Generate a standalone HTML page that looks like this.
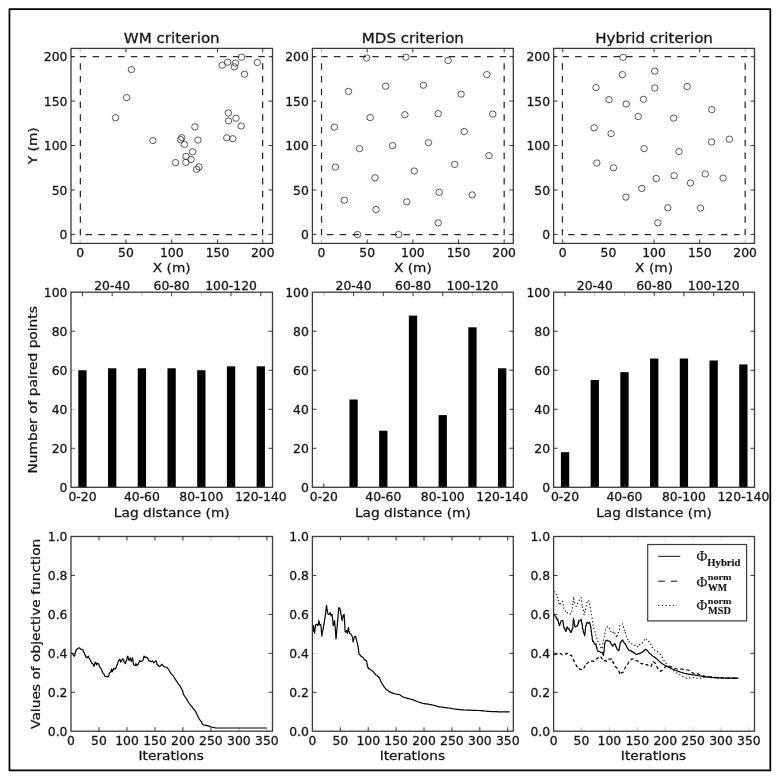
<!DOCTYPE html>
<html><head><meta charset="utf-8"><title>Sampling design criteria</title>
<style>
html,body{margin:0;padding:0;background:#fff;}
body{width:780px;height:780px;overflow:hidden;}
svg{display:block;}
text{fill:#111;stroke:#222;stroke-width:0.3px;}
.m{stroke-width:0.15px;}
</style></head><body>
<svg width="780" height="780" viewBox="0 0 780 780">
<rect width="780" height="780" fill="#fff"/>
<rect x="9.45" y="9.05" width="760.85" height="761.4" fill="none" stroke="#000" stroke-width="1.75" stroke-linejoin="round"/>
<path d="M71.00 56.70H272.50" stroke="#2a2a2a" stroke-width="1.25" fill="none" stroke-dasharray="6.45 6.3" stroke-dashoffset="3.9"/>
<path d="M85.50 234.60H257.00" stroke="#2a2a2a" stroke-width="1.25" fill="none" stroke-dasharray="6.45 6.3"/>
<path d="M80.36 63.2V235.2" stroke="#2a2a2a" stroke-width="1.25" fill="none" stroke-dasharray="6.45 6.3"/>
<path d="M262.64 63.2V235.2" stroke="#2a2a2a" stroke-width="1.25" fill="none" stroke-dasharray="6.45 6.3"/>
<rect x="71.00" y="48.40" width="201.50" height="195.00" fill="none" stroke="#3a3a3a" stroke-width="1.3"/>
<line x1="80.16" y1="243.40" x2="80.16" y2="239.40" stroke="#222" stroke-width="0.9" opacity="0.35"/>
<line x1="80.16" y1="48.40" x2="80.16" y2="52.40" stroke="#222" stroke-width="0.9" opacity="0.35"/>
<line x1="125.95" y1="243.40" x2="125.95" y2="239.40" stroke="#222" stroke-width="0.9" />
<line x1="125.95" y1="48.40" x2="125.95" y2="52.40" stroke="#222" stroke-width="0.9" />
<line x1="171.75" y1="243.40" x2="171.75" y2="239.40" stroke="#222" stroke-width="0.9" />
<line x1="217.55" y1="243.40" x2="217.55" y2="239.40" stroke="#222" stroke-width="0.9" />
<line x1="217.55" y1="48.40" x2="217.55" y2="52.40" stroke="#222" stroke-width="0.9" />
<line x1="262.74" y1="243.40" x2="262.74" y2="239.40" stroke="#222" stroke-width="0.9" />
<line x1="262.74" y1="48.40" x2="262.74" y2="52.40" stroke="#222" stroke-width="0.9" />
<line x1="71.00" y1="234.40" x2="75.00" y2="234.40" stroke="#222" stroke-width="0.9" />
<line x1="272.50" y1="234.40" x2="268.50" y2="234.40" stroke="#222" stroke-width="0.9" />
<line x1="71.00" y1="189.98" x2="75.00" y2="189.98" stroke="#222" stroke-width="0.9" />
<line x1="272.50" y1="189.98" x2="268.50" y2="189.98" stroke="#222" stroke-width="0.9" />
<line x1="71.00" y1="145.55" x2="75.00" y2="145.55" stroke="#222" stroke-width="0.9" />
<line x1="272.50" y1="145.55" x2="268.50" y2="145.55" stroke="#222" stroke-width="0.9" />
<line x1="71.00" y1="101.12" x2="75.00" y2="101.12" stroke="#222" stroke-width="0.9" />
<line x1="272.50" y1="101.12" x2="268.50" y2="101.12" stroke="#222" stroke-width="0.9" />
<line x1="71.00" y1="56.70" x2="75.00" y2="56.70" stroke="#222" stroke-width="0.9" />
<line x1="272.50" y1="56.70" x2="268.50" y2="56.70" stroke="#222" stroke-width="0.9" />
<text transform="translate(80.16 256.80) scale(1 0.93)" font-size="12.4" text-anchor="middle" font-family='"DejaVu Sans", "Liberation Sans", sans-serif' font-weight="normal" >0</text>
<text transform="translate(125.95 256.80) scale(1 0.93)" font-size="12.4" text-anchor="middle" font-family='"DejaVu Sans", "Liberation Sans", sans-serif' font-weight="normal" >50</text>
<text transform="translate(171.75 256.80) scale(1 0.93)" font-size="12.4" text-anchor="middle" font-family='"DejaVu Sans", "Liberation Sans", sans-serif' font-weight="normal" >100</text>
<text transform="translate(217.55 256.80) scale(1 0.93)" font-size="12.4" text-anchor="middle" font-family='"DejaVu Sans", "Liberation Sans", sans-serif' font-weight="normal" >150</text>
<text transform="translate(262.74 256.80) scale(1 0.93)" font-size="12.4" text-anchor="middle" font-family='"DejaVu Sans", "Liberation Sans", sans-serif' font-weight="normal" >200</text>
<text transform="translate(67.50 239.10) scale(1 0.93)" font-size="12.4" text-anchor="end" font-family='"DejaVu Sans", "Liberation Sans", sans-serif' font-weight="normal" >0</text>
<text transform="translate(67.50 194.68) scale(1 0.93)" font-size="12.4" text-anchor="end" font-family='"DejaVu Sans", "Liberation Sans", sans-serif' font-weight="normal" >50</text>
<text transform="translate(67.50 150.25) scale(1 0.93)" font-size="12.4" text-anchor="end" font-family='"DejaVu Sans", "Liberation Sans", sans-serif' font-weight="normal" >100</text>
<text transform="translate(67.50 105.83) scale(1 0.93)" font-size="12.4" text-anchor="end" font-family='"DejaVu Sans", "Liberation Sans", sans-serif' font-weight="normal" >150</text>
<text transform="translate(67.50 61.40) scale(1 0.93)" font-size="12.4" text-anchor="end" font-family='"DejaVu Sans", "Liberation Sans", sans-serif' font-weight="normal" >200</text>
<text transform="translate(171.75 272.40) scale(1 0.93)" font-size="13.75" text-anchor="middle" font-family='"DejaVu Sans", "Liberation Sans", sans-serif' font-weight="normal" >X (m)</text>
<text transform="translate(171.75 42.80) scale(1 0.93)" font-size="15.1" text-anchor="middle" font-family='"DejaVu Sans", "Liberation Sans", sans-serif' font-weight="normal" >WM criterion</text>
<ellipse cx="241.5" cy="57.2" rx="3.25" ry="3.15" fill="none" stroke="#2a2a2a" stroke-width="0.78"/>
<ellipse cx="227.7" cy="62.2" rx="3.25" ry="3.15" fill="none" stroke="#2a2a2a" stroke-width="0.78"/>
<ellipse cx="222.2" cy="65.2" rx="3.25" ry="3.15" fill="none" stroke="#2a2a2a" stroke-width="0.78"/>
<ellipse cx="235.4" cy="63.1" rx="3.25" ry="3.15" fill="none" stroke="#2a2a2a" stroke-width="0.78"/>
<ellipse cx="234.3" cy="66.8" rx="3.25" ry="3.15" fill="none" stroke="#2a2a2a" stroke-width="0.78"/>
<ellipse cx="257.4" cy="62.5" rx="3.25" ry="3.15" fill="none" stroke="#2a2a2a" stroke-width="0.78"/>
<ellipse cx="244.5" cy="74.2" rx="3.25" ry="3.15" fill="none" stroke="#2a2a2a" stroke-width="0.78"/>
<ellipse cx="131.4" cy="69.6" rx="3.25" ry="3.15" fill="none" stroke="#2a2a2a" stroke-width="0.78"/>
<ellipse cx="126.6" cy="97.6" rx="3.25" ry="3.15" fill="none" stroke="#2a2a2a" stroke-width="0.78"/>
<ellipse cx="115.6" cy="117.7" rx="3.25" ry="3.15" fill="none" stroke="#2a2a2a" stroke-width="0.78"/>
<ellipse cx="152.9" cy="140.5" rx="3.25" ry="3.15" fill="none" stroke="#2a2a2a" stroke-width="0.78"/>
<ellipse cx="228.3" cy="112.9" rx="3.25" ry="3.15" fill="none" stroke="#2a2a2a" stroke-width="0.78"/>
<ellipse cx="228.5" cy="120.9" rx="3.25" ry="3.15" fill="none" stroke="#2a2a2a" stroke-width="0.78"/>
<ellipse cx="236.0" cy="118.2" rx="3.25" ry="3.15" fill="none" stroke="#2a2a2a" stroke-width="0.78"/>
<ellipse cx="241.2" cy="126.0" rx="3.25" ry="3.15" fill="none" stroke="#2a2a2a" stroke-width="0.78"/>
<ellipse cx="226.8" cy="137.8" rx="3.25" ry="3.15" fill="none" stroke="#2a2a2a" stroke-width="0.78"/>
<ellipse cx="232.8" cy="138.7" rx="3.25" ry="3.15" fill="none" stroke="#2a2a2a" stroke-width="0.78"/>
<ellipse cx="194.9" cy="126.8" rx="3.25" ry="3.15" fill="none" stroke="#2a2a2a" stroke-width="0.78"/>
<ellipse cx="181.8" cy="137.7" rx="3.25" ry="3.15" fill="none" stroke="#2a2a2a" stroke-width="0.78"/>
<ellipse cx="180.6" cy="139.6" rx="3.25" ry="3.15" fill="none" stroke="#2a2a2a" stroke-width="0.78"/>
<ellipse cx="184.4" cy="144.4" rx="3.25" ry="3.15" fill="none" stroke="#2a2a2a" stroke-width="0.78"/>
<ellipse cx="197.9" cy="140.1" rx="3.25" ry="3.15" fill="none" stroke="#2a2a2a" stroke-width="0.78"/>
<ellipse cx="192.6" cy="151.8" rx="3.25" ry="3.15" fill="none" stroke="#2a2a2a" stroke-width="0.78"/>
<ellipse cx="186.1" cy="156.4" rx="3.25" ry="3.15" fill="none" stroke="#2a2a2a" stroke-width="0.78"/>
<ellipse cx="191.0" cy="159.5" rx="3.25" ry="3.15" fill="none" stroke="#2a2a2a" stroke-width="0.78"/>
<ellipse cx="185.9" cy="162.3" rx="3.25" ry="3.15" fill="none" stroke="#2a2a2a" stroke-width="0.78"/>
<ellipse cx="175.6" cy="162.6" rx="3.25" ry="3.15" fill="none" stroke="#2a2a2a" stroke-width="0.78"/>
<ellipse cx="199.0" cy="166.9" rx="3.25" ry="3.15" fill="none" stroke="#2a2a2a" stroke-width="0.78"/>
<ellipse cx="196.7" cy="169.3" rx="3.25" ry="3.15" fill="none" stroke="#2a2a2a" stroke-width="0.78"/>
<path d="M312.40 56.70H513.30" stroke="#2a2a2a" stroke-width="1.25" fill="none" stroke-dasharray="6.45 6.3" stroke-dashoffset="3.9"/>
<path d="M326.90 234.60H498.40" stroke="#2a2a2a" stroke-width="1.25" fill="none" stroke-dasharray="6.45 6.3"/>
<path d="M321.53 63.2V235.2" stroke="#2a2a2a" stroke-width="1.25" fill="none" stroke-dasharray="6.45 6.3"/>
<path d="M504.17 63.2V235.2" stroke="#2a2a2a" stroke-width="1.25" fill="none" stroke-dasharray="6.45 6.3"/>
<rect x="312.40" y="48.40" width="200.90" height="195.00" fill="none" stroke="#3a3a3a" stroke-width="1.3"/>
<line x1="321.53" y1="243.40" x2="321.53" y2="239.40" stroke="#222" stroke-width="0.9" opacity="0.35"/>
<line x1="321.53" y1="48.40" x2="321.53" y2="52.40" stroke="#222" stroke-width="0.9" opacity="0.35"/>
<line x1="367.19" y1="243.40" x2="367.19" y2="239.40" stroke="#222" stroke-width="0.9" />
<line x1="367.19" y1="48.40" x2="367.19" y2="52.40" stroke="#222" stroke-width="0.9" />
<line x1="412.85" y1="243.40" x2="412.85" y2="239.40" stroke="#222" stroke-width="0.9" />
<line x1="412.85" y1="48.40" x2="412.85" y2="52.40" stroke="#222" stroke-width="0.9" />
<line x1="458.51" y1="243.40" x2="458.51" y2="239.40" stroke="#222" stroke-width="0.9" />
<line x1="504.17" y1="243.40" x2="504.17" y2="239.40" stroke="#222" stroke-width="0.9" />
<line x1="504.17" y1="48.40" x2="504.17" y2="52.40" stroke="#222" stroke-width="0.9" />
<line x1="312.40" y1="234.40" x2="316.40" y2="234.40" stroke="#222" stroke-width="0.9" />
<line x1="513.30" y1="234.40" x2="509.30" y2="234.40" stroke="#222" stroke-width="0.9" />
<line x1="312.40" y1="189.98" x2="316.40" y2="189.98" stroke="#222" stroke-width="0.9" />
<line x1="513.30" y1="189.98" x2="509.30" y2="189.98" stroke="#222" stroke-width="0.9" />
<line x1="312.40" y1="145.55" x2="316.40" y2="145.55" stroke="#222" stroke-width="0.9" />
<line x1="513.30" y1="145.55" x2="509.30" y2="145.55" stroke="#222" stroke-width="0.9" />
<line x1="312.40" y1="101.12" x2="316.40" y2="101.12" stroke="#222" stroke-width="0.9" />
<line x1="513.30" y1="101.12" x2="509.30" y2="101.12" stroke="#222" stroke-width="0.9" />
<line x1="312.40" y1="56.70" x2="316.40" y2="56.70" stroke="#222" stroke-width="0.9" />
<line x1="513.30" y1="56.70" x2="509.30" y2="56.70" stroke="#222" stroke-width="0.9" />
<text transform="translate(321.53 256.80) scale(1 0.93)" font-size="12.4" text-anchor="middle" font-family='"DejaVu Sans", "Liberation Sans", sans-serif' font-weight="normal" >0</text>
<text transform="translate(367.19 256.80) scale(1 0.93)" font-size="12.4" text-anchor="middle" font-family='"DejaVu Sans", "Liberation Sans", sans-serif' font-weight="normal" >50</text>
<text transform="translate(412.85 256.80) scale(1 0.93)" font-size="12.4" text-anchor="middle" font-family='"DejaVu Sans", "Liberation Sans", sans-serif' font-weight="normal" >100</text>
<text transform="translate(458.51 256.80) scale(1 0.93)" font-size="12.4" text-anchor="middle" font-family='"DejaVu Sans", "Liberation Sans", sans-serif' font-weight="normal" >150</text>
<text transform="translate(504.17 256.80) scale(1 0.93)" font-size="12.4" text-anchor="middle" font-family='"DejaVu Sans", "Liberation Sans", sans-serif' font-weight="normal" >200</text>
<text transform="translate(308.90 239.10) scale(1 0.93)" font-size="12.4" text-anchor="end" font-family='"DejaVu Sans", "Liberation Sans", sans-serif' font-weight="normal" >0</text>
<text transform="translate(308.90 194.68) scale(1 0.93)" font-size="12.4" text-anchor="end" font-family='"DejaVu Sans", "Liberation Sans", sans-serif' font-weight="normal" >50</text>
<text transform="translate(308.90 150.25) scale(1 0.93)" font-size="12.4" text-anchor="end" font-family='"DejaVu Sans", "Liberation Sans", sans-serif' font-weight="normal" >100</text>
<text transform="translate(308.90 105.83) scale(1 0.93)" font-size="12.4" text-anchor="end" font-family='"DejaVu Sans", "Liberation Sans", sans-serif' font-weight="normal" >150</text>
<text transform="translate(308.90 61.40) scale(1 0.93)" font-size="12.4" text-anchor="end" font-family='"DejaVu Sans", "Liberation Sans", sans-serif' font-weight="normal" >200</text>
<text transform="translate(412.85 272.40) scale(1 0.93)" font-size="13.75" text-anchor="middle" font-family='"DejaVu Sans", "Liberation Sans", sans-serif' font-weight="normal" >X (m)</text>
<text transform="translate(412.85 42.80) scale(1 0.93)" font-size="15.1" text-anchor="middle" font-family='"DejaVu Sans", "Liberation Sans", sans-serif' font-weight="normal" >MDS criterion</text>
<ellipse cx="366.7" cy="58.0" rx="3.25" ry="3.15" fill="none" stroke="#2a2a2a" stroke-width="0.78"/>
<ellipse cx="405.9" cy="57.1" rx="3.25" ry="3.15" fill="none" stroke="#2a2a2a" stroke-width="0.78"/>
<ellipse cx="348.5" cy="91.4" rx="3.25" ry="3.15" fill="none" stroke="#2a2a2a" stroke-width="0.78"/>
<ellipse cx="385.7" cy="86.2" rx="3.25" ry="3.15" fill="none" stroke="#2a2a2a" stroke-width="0.78"/>
<ellipse cx="370.2" cy="117.6" rx="3.25" ry="3.15" fill="none" stroke="#2a2a2a" stroke-width="0.78"/>
<ellipse cx="404.9" cy="114.7" rx="3.25" ry="3.15" fill="none" stroke="#2a2a2a" stroke-width="0.78"/>
<ellipse cx="334.3" cy="127.1" rx="3.25" ry="3.15" fill="none" stroke="#2a2a2a" stroke-width="0.78"/>
<ellipse cx="359.5" cy="148.6" rx="3.25" ry="3.15" fill="none" stroke="#2a2a2a" stroke-width="0.78"/>
<ellipse cx="392.6" cy="145.6" rx="3.25" ry="3.15" fill="none" stroke="#2a2a2a" stroke-width="0.78"/>
<ellipse cx="448.1" cy="60.5" rx="3.25" ry="3.15" fill="none" stroke="#2a2a2a" stroke-width="0.78"/>
<ellipse cx="486.9" cy="74.6" rx="3.25" ry="3.15" fill="none" stroke="#2a2a2a" stroke-width="0.78"/>
<ellipse cx="423.4" cy="85.2" rx="3.25" ry="3.15" fill="none" stroke="#2a2a2a" stroke-width="0.78"/>
<ellipse cx="461.1" cy="94.1" rx="3.25" ry="3.15" fill="none" stroke="#2a2a2a" stroke-width="0.78"/>
<ellipse cx="438.2" cy="113.7" rx="3.25" ry="3.15" fill="none" stroke="#2a2a2a" stroke-width="0.78"/>
<ellipse cx="492.8" cy="114.1" rx="3.25" ry="3.15" fill="none" stroke="#2a2a2a" stroke-width="0.78"/>
<ellipse cx="464.2" cy="131.5" rx="3.25" ry="3.15" fill="none" stroke="#2a2a2a" stroke-width="0.78"/>
<ellipse cx="428.5" cy="142.7" rx="3.25" ry="3.15" fill="none" stroke="#2a2a2a" stroke-width="0.78"/>
<ellipse cx="489.0" cy="155.6" rx="3.25" ry="3.15" fill="none" stroke="#2a2a2a" stroke-width="0.78"/>
<ellipse cx="335.4" cy="167.1" rx="3.25" ry="3.15" fill="none" stroke="#2a2a2a" stroke-width="0.78"/>
<ellipse cx="414.2" cy="171.0" rx="3.25" ry="3.15" fill="none" stroke="#2a2a2a" stroke-width="0.78"/>
<ellipse cx="375.0" cy="177.8" rx="3.25" ry="3.15" fill="none" stroke="#2a2a2a" stroke-width="0.78"/>
<ellipse cx="344.3" cy="200.2" rx="3.25" ry="3.15" fill="none" stroke="#2a2a2a" stroke-width="0.78"/>
<ellipse cx="406.8" cy="201.9" rx="3.25" ry="3.15" fill="none" stroke="#2a2a2a" stroke-width="0.78"/>
<ellipse cx="376.0" cy="209.5" rx="3.25" ry="3.15" fill="none" stroke="#2a2a2a" stroke-width="0.78"/>
<ellipse cx="357.5" cy="234.5" rx="3.25" ry="3.15" fill="none" stroke="#2a2a2a" stroke-width="0.78"/>
<ellipse cx="398.6" cy="234.5" rx="3.25" ry="3.15" fill="none" stroke="#2a2a2a" stroke-width="0.78"/>
<ellipse cx="454.7" cy="164.4" rx="3.25" ry="3.15" fill="none" stroke="#2a2a2a" stroke-width="0.78"/>
<ellipse cx="439.2" cy="192.3" rx="3.25" ry="3.15" fill="none" stroke="#2a2a2a" stroke-width="0.78"/>
<ellipse cx="472.2" cy="194.9" rx="3.25" ry="3.15" fill="none" stroke="#2a2a2a" stroke-width="0.78"/>
<ellipse cx="438.2" cy="222.9" rx="3.25" ry="3.15" fill="none" stroke="#2a2a2a" stroke-width="0.78"/>
<path d="M553.60 56.70H754.50" stroke="#2a2a2a" stroke-width="1.25" fill="none" stroke-dasharray="6.45 6.3" stroke-dashoffset="3.9"/>
<path d="M568.10 234.60H739.60" stroke="#2a2a2a" stroke-width="1.25" fill="none" stroke-dasharray="6.45 6.3"/>
<path d="M562.43 63.2V235.2" stroke="#2a2a2a" stroke-width="1.25" fill="none" stroke-dasharray="6.45 6.3"/>
<path d="M745.17 63.2V235.2" stroke="#2a2a2a" stroke-width="1.25" fill="none" stroke-dasharray="6.45 6.3"/>
<rect x="553.60" y="48.40" width="200.90" height="195.00" fill="none" stroke="#3a3a3a" stroke-width="1.3"/>
<line x1="562.73" y1="243.40" x2="562.73" y2="239.40" stroke="#222" stroke-width="0.9" />
<line x1="562.73" y1="48.40" x2="562.73" y2="52.40" stroke="#222" stroke-width="0.9" />
<line x1="654.05" y1="243.40" x2="654.05" y2="239.40" stroke="#222" stroke-width="0.9" />
<line x1="654.05" y1="48.40" x2="654.05" y2="52.40" stroke="#222" stroke-width="0.9" />
<line x1="699.71" y1="243.40" x2="699.71" y2="239.40" stroke="#222" stroke-width="0.9" />
<line x1="699.71" y1="48.40" x2="699.71" y2="52.40" stroke="#222" stroke-width="0.9" />
<line x1="745.17" y1="243.40" x2="745.17" y2="239.40" stroke="#222" stroke-width="0.9" opacity="0.35"/>
<line x1="745.17" y1="48.40" x2="745.17" y2="52.40" stroke="#222" stroke-width="0.9" opacity="0.35"/>
<line x1="553.60" y1="234.40" x2="557.60" y2="234.40" stroke="#222" stroke-width="0.9" />
<line x1="754.50" y1="234.40" x2="750.50" y2="234.40" stroke="#222" stroke-width="0.9" />
<line x1="553.60" y1="189.98" x2="557.60" y2="189.98" stroke="#222" stroke-width="0.9" />
<line x1="754.50" y1="189.98" x2="750.50" y2="189.98" stroke="#222" stroke-width="0.9" />
<line x1="553.60" y1="145.55" x2="557.60" y2="145.55" stroke="#222" stroke-width="0.9" />
<line x1="754.50" y1="145.55" x2="750.50" y2="145.55" stroke="#222" stroke-width="0.9" />
<line x1="553.60" y1="101.12" x2="557.60" y2="101.12" stroke="#222" stroke-width="0.9" />
<line x1="754.50" y1="101.12" x2="750.50" y2="101.12" stroke="#222" stroke-width="0.9" />
<line x1="553.60" y1="56.70" x2="557.60" y2="56.70" stroke="#222" stroke-width="0.9" />
<line x1="754.50" y1="56.70" x2="750.50" y2="56.70" stroke="#222" stroke-width="0.9" />
<text transform="translate(562.73 256.80) scale(1 0.93)" font-size="12.4" text-anchor="middle" font-family='"DejaVu Sans", "Liberation Sans", sans-serif' font-weight="normal" >0</text>
<text transform="translate(608.39 256.80) scale(1 0.93)" font-size="12.4" text-anchor="middle" font-family='"DejaVu Sans", "Liberation Sans", sans-serif' font-weight="normal" >50</text>
<text transform="translate(654.05 256.80) scale(1 0.93)" font-size="12.4" text-anchor="middle" font-family='"DejaVu Sans", "Liberation Sans", sans-serif' font-weight="normal" >100</text>
<text transform="translate(699.71 256.80) scale(1 0.93)" font-size="12.4" text-anchor="middle" font-family='"DejaVu Sans", "Liberation Sans", sans-serif' font-weight="normal" >150</text>
<text transform="translate(745.17 256.80) scale(1 0.93)" font-size="12.4" text-anchor="middle" font-family='"DejaVu Sans", "Liberation Sans", sans-serif' font-weight="normal" >200</text>
<text transform="translate(550.10 239.10) scale(1 0.93)" font-size="12.4" text-anchor="end" font-family='"DejaVu Sans", "Liberation Sans", sans-serif' font-weight="normal" >0</text>
<text transform="translate(550.10 194.68) scale(1 0.93)" font-size="12.4" text-anchor="end" font-family='"DejaVu Sans", "Liberation Sans", sans-serif' font-weight="normal" >50</text>
<text transform="translate(550.10 150.25) scale(1 0.93)" font-size="12.4" text-anchor="end" font-family='"DejaVu Sans", "Liberation Sans", sans-serif' font-weight="normal" >100</text>
<text transform="translate(550.10 105.83) scale(1 0.93)" font-size="12.4" text-anchor="end" font-family='"DejaVu Sans", "Liberation Sans", sans-serif' font-weight="normal" >150</text>
<text transform="translate(550.10 61.40) scale(1 0.93)" font-size="12.4" text-anchor="end" font-family='"DejaVu Sans", "Liberation Sans", sans-serif' font-weight="normal" >200</text>
<text transform="translate(654.05 272.40) scale(1 0.93)" font-size="13.75" text-anchor="middle" font-family='"DejaVu Sans", "Liberation Sans", sans-serif' font-weight="normal" >X (m)</text>
<text transform="translate(654.05 42.80) scale(1 0.93)" font-size="15.1" text-anchor="middle" font-family='"DejaVu Sans", "Liberation Sans", sans-serif' font-weight="normal" >Hybrid criterion</text>
<ellipse cx="623.1" cy="57.3" rx="3.25" ry="3.15" fill="none" stroke="#2a2a2a" stroke-width="0.78"/>
<ellipse cx="654.8" cy="71.1" rx="3.25" ry="3.15" fill="none" stroke="#2a2a2a" stroke-width="0.78"/>
<ellipse cx="622.4" cy="74.6" rx="3.25" ry="3.15" fill="none" stroke="#2a2a2a" stroke-width="0.78"/>
<ellipse cx="596.0" cy="87.6" rx="3.25" ry="3.15" fill="none" stroke="#2a2a2a" stroke-width="0.78"/>
<ellipse cx="654.8" cy="88.0" rx="3.25" ry="3.15" fill="none" stroke="#2a2a2a" stroke-width="0.78"/>
<ellipse cx="609.0" cy="99.7" rx="3.25" ry="3.15" fill="none" stroke="#2a2a2a" stroke-width="0.78"/>
<ellipse cx="643.5" cy="99.3" rx="3.25" ry="3.15" fill="none" stroke="#2a2a2a" stroke-width="0.78"/>
<ellipse cx="626.2" cy="104.0" rx="3.25" ry="3.15" fill="none" stroke="#2a2a2a" stroke-width="0.78"/>
<ellipse cx="638.2" cy="116.5" rx="3.25" ry="3.15" fill="none" stroke="#2a2a2a" stroke-width="0.78"/>
<ellipse cx="594.1" cy="127.8" rx="3.25" ry="3.15" fill="none" stroke="#2a2a2a" stroke-width="0.78"/>
<ellipse cx="611.1" cy="133.6" rx="3.25" ry="3.15" fill="none" stroke="#2a2a2a" stroke-width="0.78"/>
<ellipse cx="644.1" cy="148.6" rx="3.25" ry="3.15" fill="none" stroke="#2a2a2a" stroke-width="0.78"/>
<ellipse cx="687.1" cy="86.5" rx="3.25" ry="3.15" fill="none" stroke="#2a2a2a" stroke-width="0.78"/>
<ellipse cx="711.8" cy="109.6" rx="3.25" ry="3.15" fill="none" stroke="#2a2a2a" stroke-width="0.78"/>
<ellipse cx="673.7" cy="118.1" rx="3.25" ry="3.15" fill="none" stroke="#2a2a2a" stroke-width="0.78"/>
<ellipse cx="729.4" cy="139.2" rx="3.25" ry="3.15" fill="none" stroke="#2a2a2a" stroke-width="0.78"/>
<ellipse cx="711.6" cy="142.0" rx="3.25" ry="3.15" fill="none" stroke="#2a2a2a" stroke-width="0.78"/>
<ellipse cx="679.0" cy="151.6" rx="3.25" ry="3.15" fill="none" stroke="#2a2a2a" stroke-width="0.78"/>
<ellipse cx="596.8" cy="163.0" rx="3.25" ry="3.15" fill="none" stroke="#2a2a2a" stroke-width="0.78"/>
<ellipse cx="613.5" cy="167.8" rx="3.25" ry="3.15" fill="none" stroke="#2a2a2a" stroke-width="0.78"/>
<ellipse cx="656.2" cy="178.5" rx="3.25" ry="3.15" fill="none" stroke="#2a2a2a" stroke-width="0.78"/>
<ellipse cx="641.8" cy="188.4" rx="3.25" ry="3.15" fill="none" stroke="#2a2a2a" stroke-width="0.78"/>
<ellipse cx="625.9" cy="197.1" rx="3.25" ry="3.15" fill="none" stroke="#2a2a2a" stroke-width="0.78"/>
<ellipse cx="657.9" cy="222.8" rx="3.25" ry="3.15" fill="none" stroke="#2a2a2a" stroke-width="0.78"/>
<ellipse cx="674.1" cy="175.7" rx="3.25" ry="3.15" fill="none" stroke="#2a2a2a" stroke-width="0.78"/>
<ellipse cx="690.5" cy="183.0" rx="3.25" ry="3.15" fill="none" stroke="#2a2a2a" stroke-width="0.78"/>
<ellipse cx="705.3" cy="173.9" rx="3.25" ry="3.15" fill="none" stroke="#2a2a2a" stroke-width="0.78"/>
<ellipse cx="723.1" cy="178.1" rx="3.25" ry="3.15" fill="none" stroke="#2a2a2a" stroke-width="0.78"/>
<ellipse cx="667.8" cy="207.8" rx="3.25" ry="3.15" fill="none" stroke="#2a2a2a" stroke-width="0.78"/>
<ellipse cx="700.5" cy="208.1" rx="3.25" ry="3.15" fill="none" stroke="#2a2a2a" stroke-width="0.78"/>
<text transform="translate(37.30 145.80) rotate(-90) scale(1 0.9)" font-size="13.75" text-anchor="middle" font-family='"DejaVu Sans", "Liberation Sans", sans-serif' font-weight="normal" >Y (m)</text>
<rect x="78.30" y="370.24" width="8.3" height="117.06" fill="#000"/>
<rect x="108.02" y="368.29" width="8.3" height="119.01" fill="#000"/>
<rect x="137.74" y="368.29" width="8.3" height="119.01" fill="#000"/>
<rect x="167.46" y="368.29" width="8.3" height="119.01" fill="#000"/>
<rect x="197.18" y="370.24" width="8.3" height="117.06" fill="#000"/>
<rect x="226.90" y="366.34" width="8.3" height="120.96" fill="#000"/>
<rect x="256.62" y="366.34" width="8.3" height="120.96" fill="#000"/>
<rect x="71.00" y="292.20" width="201.50" height="195.10" fill="none" stroke="#3a3a3a" stroke-width="1.3"/>
<line x1="82.45" y1="487.30" x2="82.45" y2="483.30" stroke="#222" stroke-width="0.9" />
<line x1="82.45" y1="292.20" x2="82.45" y2="296.20" stroke="#222" stroke-width="0.9" />
<line x1="112.17" y1="487.30" x2="112.17" y2="483.30" stroke="#222" stroke-width="0.9" />
<line x1="112.17" y1="292.20" x2="112.17" y2="296.20" stroke="#222" stroke-width="0.9" />
<line x1="141.89" y1="487.30" x2="141.89" y2="483.30" stroke="#222" stroke-width="0.9" />
<line x1="141.89" y1="292.20" x2="141.89" y2="296.20" stroke="#222" stroke-width="0.9" opacity="0.35"/>
<line x1="171.61" y1="487.30" x2="171.61" y2="483.30" stroke="#222" stroke-width="0.9" />
<line x1="171.61" y1="292.20" x2="171.61" y2="296.20" stroke="#222" stroke-width="0.9" />
<line x1="201.33" y1="487.30" x2="201.33" y2="483.30" stroke="#222" stroke-width="0.9" />
<line x1="201.33" y1="292.20" x2="201.33" y2="296.20" stroke="#222" stroke-width="0.9" opacity="0.35"/>
<line x1="231.05" y1="487.30" x2="231.05" y2="483.30" stroke="#222" stroke-width="0.9" />
<line x1="231.05" y1="292.20" x2="231.05" y2="296.20" stroke="#222" stroke-width="0.9" />
<line x1="260.77" y1="487.30" x2="260.77" y2="483.30" stroke="#222" stroke-width="0.9" />
<line x1="260.77" y1="292.20" x2="260.77" y2="296.20" stroke="#222" stroke-width="0.9" />
<line x1="71.00" y1="448.28" x2="75.00" y2="448.28" stroke="#222" stroke-width="0.9" />
<line x1="272.50" y1="448.28" x2="268.50" y2="448.28" stroke="#222" stroke-width="0.9" />
<line x1="71.00" y1="409.26" x2="75.00" y2="409.26" stroke="#222" stroke-width="0.9" opacity="0.3"/>
<line x1="272.50" y1="409.26" x2="268.50" y2="409.26" stroke="#222" stroke-width="0.9" />
<line x1="71.00" y1="370.24" x2="75.00" y2="370.24" stroke="#222" stroke-width="0.9" opacity="0.3"/>
<line x1="272.50" y1="370.24" x2="268.50" y2="370.24" stroke="#222" stroke-width="0.9" />
<line x1="71.00" y1="331.22" x2="75.00" y2="331.22" stroke="#222" stroke-width="0.9" />
<line x1="272.50" y1="331.22" x2="268.50" y2="331.22" stroke="#222" stroke-width="0.9" />
<text transform="translate(67.50 492.00) scale(1 0.93)" font-size="12.4" text-anchor="end" font-family='"DejaVu Sans", "Liberation Sans", sans-serif' font-weight="normal" >0</text>
<text transform="translate(67.50 452.98) scale(1 0.93)" font-size="12.4" text-anchor="end" font-family='"DejaVu Sans", "Liberation Sans", sans-serif' font-weight="normal" >20</text>
<text transform="translate(67.50 413.96) scale(1 0.93)" font-size="12.4" text-anchor="end" font-family='"DejaVu Sans", "Liberation Sans", sans-serif' font-weight="normal" >40</text>
<text transform="translate(67.50 374.94) scale(1 0.93)" font-size="12.4" text-anchor="end" font-family='"DejaVu Sans", "Liberation Sans", sans-serif' font-weight="normal" >60</text>
<text transform="translate(67.50 335.92) scale(1 0.93)" font-size="12.4" text-anchor="end" font-family='"DejaVu Sans", "Liberation Sans", sans-serif' font-weight="normal" >80</text>
<text transform="translate(67.50 296.90) scale(1 0.93)" font-size="12.4" text-anchor="end" font-family='"DejaVu Sans", "Liberation Sans", sans-serif' font-weight="normal" >100</text>
<text transform="translate(82.45 501.00) scale(1 0.93)" font-size="12.4" text-anchor="middle" font-family='"DejaVu Sans", "Liberation Sans", sans-serif' font-weight="normal" >0-20</text>
<text transform="translate(112.17 289.60) scale(1 0.93)" font-size="12.4" text-anchor="middle" font-family='"DejaVu Sans", "Liberation Sans", sans-serif' font-weight="normal" >20-40</text>
<text transform="translate(141.89 501.00) scale(1 0.93)" font-size="12.4" text-anchor="middle" font-family='"DejaVu Sans", "Liberation Sans", sans-serif' font-weight="normal" >40-60</text>
<text transform="translate(171.61 289.60) scale(1 0.93)" font-size="12.4" text-anchor="middle" font-family='"DejaVu Sans", "Liberation Sans", sans-serif' font-weight="normal" >60-80</text>
<text transform="translate(201.33 501.00) scale(1 0.93)" font-size="12.4" text-anchor="middle" font-family='"DejaVu Sans", "Liberation Sans", sans-serif' font-weight="normal" >80-100</text>
<text transform="translate(231.05 289.60) scale(1 0.93)" font-size="12.4" text-anchor="middle" font-family='"DejaVu Sans", "Liberation Sans", sans-serif' font-weight="normal" >100-120</text>
<text transform="translate(260.77 501.00) scale(1 0.93)" font-size="12.4" text-anchor="middle" font-family='"DejaVu Sans", "Liberation Sans", sans-serif' font-weight="normal" >120-140</text>
<text transform="translate(171.75 516.60) scale(1 0.93)" font-size="13.75" text-anchor="middle" font-family='"DejaVu Sans", "Liberation Sans", sans-serif' font-weight="normal" >Lag distance (m)</text>
<rect x="349.42" y="399.50" width="8.3" height="87.80" fill="#000"/>
<rect x="379.14" y="430.72" width="8.3" height="56.58" fill="#000"/>
<rect x="408.86" y="315.61" width="8.3" height="171.69" fill="#000"/>
<rect x="438.58" y="415.11" width="8.3" height="72.19" fill="#000"/>
<rect x="468.30" y="327.32" width="8.3" height="159.98" fill="#000"/>
<rect x="498.02" y="368.29" width="8.3" height="119.01" fill="#000"/>
<rect x="312.40" y="292.20" width="200.90" height="195.10" fill="none" stroke="#3a3a3a" stroke-width="1.3"/>
<line x1="323.85" y1="487.30" x2="323.85" y2="483.30" stroke="#222" stroke-width="0.9" />
<line x1="323.85" y1="292.20" x2="323.85" y2="296.20" stroke="#222" stroke-width="0.9" opacity="0.35"/>
<line x1="353.57" y1="487.30" x2="353.57" y2="483.30" stroke="#222" stroke-width="0.9" />
<line x1="353.57" y1="292.20" x2="353.57" y2="296.20" stroke="#222" stroke-width="0.9" />
<line x1="383.29" y1="487.30" x2="383.29" y2="483.30" stroke="#222" stroke-width="0.9" />
<line x1="383.29" y1="292.20" x2="383.29" y2="296.20" stroke="#222" stroke-width="0.9" />
<line x1="413.01" y1="487.30" x2="413.01" y2="483.30" stroke="#222" stroke-width="0.9" />
<line x1="413.01" y1="292.20" x2="413.01" y2="296.20" stroke="#222" stroke-width="0.9" />
<line x1="442.73" y1="487.30" x2="442.73" y2="483.30" stroke="#222" stroke-width="0.9" />
<line x1="442.73" y1="292.20" x2="442.73" y2="296.20" stroke="#222" stroke-width="0.9" />
<line x1="472.45" y1="487.30" x2="472.45" y2="483.30" stroke="#222" stroke-width="0.9" />
<line x1="472.45" y1="292.20" x2="472.45" y2="296.20" stroke="#222" stroke-width="0.9" opacity="0.35"/>
<line x1="502.17" y1="487.30" x2="502.17" y2="483.30" stroke="#222" stroke-width="0.9" />
<line x1="502.17" y1="292.20" x2="502.17" y2="296.20" stroke="#222" stroke-width="0.9" opacity="0.35"/>
<line x1="312.40" y1="448.28" x2="316.40" y2="448.28" stroke="#222" stroke-width="0.9" />
<line x1="513.30" y1="448.28" x2="509.30" y2="448.28" stroke="#222" stroke-width="0.9" />
<line x1="312.40" y1="409.26" x2="316.40" y2="409.26" stroke="#222" stroke-width="0.9" />
<line x1="513.30" y1="409.26" x2="509.30" y2="409.26" stroke="#222" stroke-width="0.9" />
<line x1="312.40" y1="370.24" x2="316.40" y2="370.24" stroke="#222" stroke-width="0.9" />
<line x1="513.30" y1="370.24" x2="509.30" y2="370.24" stroke="#222" stroke-width="0.9" />
<line x1="312.40" y1="331.22" x2="316.40" y2="331.22" stroke="#222" stroke-width="0.9" />
<line x1="513.30" y1="331.22" x2="509.30" y2="331.22" stroke="#222" stroke-width="0.9" />
<text transform="translate(308.90 492.00) scale(1 0.93)" font-size="12.4" text-anchor="end" font-family='"DejaVu Sans", "Liberation Sans", sans-serif' font-weight="normal" >0</text>
<text transform="translate(308.90 452.98) scale(1 0.93)" font-size="12.4" text-anchor="end" font-family='"DejaVu Sans", "Liberation Sans", sans-serif' font-weight="normal" >20</text>
<text transform="translate(308.90 413.96) scale(1 0.93)" font-size="12.4" text-anchor="end" font-family='"DejaVu Sans", "Liberation Sans", sans-serif' font-weight="normal" >40</text>
<text transform="translate(308.90 374.94) scale(1 0.93)" font-size="12.4" text-anchor="end" font-family='"DejaVu Sans", "Liberation Sans", sans-serif' font-weight="normal" >60</text>
<text transform="translate(308.90 335.92) scale(1 0.93)" font-size="12.4" text-anchor="end" font-family='"DejaVu Sans", "Liberation Sans", sans-serif' font-weight="normal" >80</text>
<text transform="translate(308.90 296.90) scale(1 0.93)" font-size="12.4" text-anchor="end" font-family='"DejaVu Sans", "Liberation Sans", sans-serif' font-weight="normal" >100</text>
<text transform="translate(323.85 501.00) scale(1 0.93)" font-size="12.4" text-anchor="middle" font-family='"DejaVu Sans", "Liberation Sans", sans-serif' font-weight="normal" >0-20</text>
<text transform="translate(353.57 289.60) scale(1 0.93)" font-size="12.4" text-anchor="middle" font-family='"DejaVu Sans", "Liberation Sans", sans-serif' font-weight="normal" >20-40</text>
<text transform="translate(383.29 501.00) scale(1 0.93)" font-size="12.4" text-anchor="middle" font-family='"DejaVu Sans", "Liberation Sans", sans-serif' font-weight="normal" >40-60</text>
<text transform="translate(413.01 289.60) scale(1 0.93)" font-size="12.4" text-anchor="middle" font-family='"DejaVu Sans", "Liberation Sans", sans-serif' font-weight="normal" >60-80</text>
<text transform="translate(442.73 501.00) scale(1 0.93)" font-size="12.4" text-anchor="middle" font-family='"DejaVu Sans", "Liberation Sans", sans-serif' font-weight="normal" >80-100</text>
<text transform="translate(472.45 289.60) scale(1 0.93)" font-size="12.4" text-anchor="middle" font-family='"DejaVu Sans", "Liberation Sans", sans-serif' font-weight="normal" >100-120</text>
<text transform="translate(502.17 501.00) scale(1 0.93)" font-size="12.4" text-anchor="middle" font-family='"DejaVu Sans", "Liberation Sans", sans-serif' font-weight="normal" >120-140</text>
<text transform="translate(412.85 516.60) scale(1 0.93)" font-size="13.75" text-anchor="middle" font-family='"DejaVu Sans", "Liberation Sans", sans-serif' font-weight="normal" >Lag distance (m)</text>
<rect x="560.90" y="452.18" width="8.3" height="35.12" fill="#000"/>
<rect x="590.62" y="380.00" width="8.3" height="107.31" fill="#000"/>
<rect x="620.34" y="372.19" width="8.3" height="115.11" fill="#000"/>
<rect x="650.06" y="358.53" width="8.3" height="128.77" fill="#000"/>
<rect x="679.78" y="358.53" width="8.3" height="128.77" fill="#000"/>
<rect x="709.50" y="360.49" width="8.3" height="126.81" fill="#000"/>
<rect x="739.22" y="364.39" width="8.3" height="122.91" fill="#000"/>
<rect x="553.60" y="292.20" width="200.90" height="195.10" fill="none" stroke="#3a3a3a" stroke-width="1.3"/>
<line x1="565.05" y1="487.30" x2="565.05" y2="483.30" stroke="#222" stroke-width="0.9" />
<line x1="565.05" y1="292.20" x2="565.05" y2="296.20" stroke="#222" stroke-width="0.9" />
<line x1="594.77" y1="487.30" x2="594.77" y2="483.30" stroke="#222" stroke-width="0.9" />
<line x1="594.77" y1="292.20" x2="594.77" y2="296.20" stroke="#222" stroke-width="0.9" opacity="0.35"/>
<line x1="624.49" y1="487.30" x2="624.49" y2="483.30" stroke="#222" stroke-width="0.9" />
<line x1="624.49" y1="292.20" x2="624.49" y2="296.20" stroke="#222" stroke-width="0.9" opacity="0.4"/>
<line x1="654.21" y1="487.30" x2="654.21" y2="483.30" stroke="#222" stroke-width="0.9" />
<line x1="654.21" y1="292.20" x2="654.21" y2="296.20" stroke="#222" stroke-width="0.9" />
<line x1="683.93" y1="487.30" x2="683.93" y2="483.30" stroke="#222" stroke-width="0.9" />
<line x1="683.93" y1="292.20" x2="683.93" y2="296.20" stroke="#222" stroke-width="0.9" />
<line x1="713.65" y1="487.30" x2="713.65" y2="483.30" stroke="#222" stroke-width="0.9" />
<line x1="713.65" y1="292.20" x2="713.65" y2="296.20" stroke="#222" stroke-width="0.9" />
<line x1="743.37" y1="487.30" x2="743.37" y2="483.30" stroke="#222" stroke-width="0.9" />
<line x1="743.37" y1="292.20" x2="743.37" y2="296.20" stroke="#222" stroke-width="0.9" />
<line x1="553.60" y1="448.28" x2="557.60" y2="448.28" stroke="#222" stroke-width="0.9" />
<line x1="754.50" y1="448.28" x2="750.50" y2="448.28" stroke="#222" stroke-width="0.9" />
<line x1="553.60" y1="409.26" x2="557.60" y2="409.26" stroke="#222" stroke-width="0.9" />
<line x1="754.50" y1="409.26" x2="750.50" y2="409.26" stroke="#222" stroke-width="0.9" />
<line x1="553.60" y1="370.24" x2="557.60" y2="370.24" stroke="#222" stroke-width="0.9" />
<line x1="754.50" y1="370.24" x2="750.50" y2="370.24" stroke="#222" stroke-width="0.9" />
<line x1="553.60" y1="331.22" x2="557.60" y2="331.22" stroke="#222" stroke-width="0.9" />
<line x1="754.50" y1="331.22" x2="750.50" y2="331.22" stroke="#222" stroke-width="0.9" />
<text transform="translate(550.10 492.00) scale(1 0.93)" font-size="12.4" text-anchor="end" font-family='"DejaVu Sans", "Liberation Sans", sans-serif' font-weight="normal" >0</text>
<text transform="translate(550.10 452.98) scale(1 0.93)" font-size="12.4" text-anchor="end" font-family='"DejaVu Sans", "Liberation Sans", sans-serif' font-weight="normal" >20</text>
<text transform="translate(550.10 413.96) scale(1 0.93)" font-size="12.4" text-anchor="end" font-family='"DejaVu Sans", "Liberation Sans", sans-serif' font-weight="normal" >40</text>
<text transform="translate(550.10 374.94) scale(1 0.93)" font-size="12.4" text-anchor="end" font-family='"DejaVu Sans", "Liberation Sans", sans-serif' font-weight="normal" >60</text>
<text transform="translate(550.10 335.92) scale(1 0.93)" font-size="12.4" text-anchor="end" font-family='"DejaVu Sans", "Liberation Sans", sans-serif' font-weight="normal" >80</text>
<text transform="translate(550.10 296.90) scale(1 0.93)" font-size="12.4" text-anchor="end" font-family='"DejaVu Sans", "Liberation Sans", sans-serif' font-weight="normal" >100</text>
<text transform="translate(565.05 501.00) scale(1 0.93)" font-size="12.4" text-anchor="middle" font-family='"DejaVu Sans", "Liberation Sans", sans-serif' font-weight="normal" >0-20</text>
<text transform="translate(594.77 289.60) scale(1 0.93)" font-size="12.4" text-anchor="middle" font-family='"DejaVu Sans", "Liberation Sans", sans-serif' font-weight="normal" >20-40</text>
<text transform="translate(624.49 501.00) scale(1 0.93)" font-size="12.4" text-anchor="middle" font-family='"DejaVu Sans", "Liberation Sans", sans-serif' font-weight="normal" >40-60</text>
<text transform="translate(654.21 289.60) scale(1 0.93)" font-size="12.4" text-anchor="middle" font-family='"DejaVu Sans", "Liberation Sans", sans-serif' font-weight="normal" >60-80</text>
<text transform="translate(683.93 501.00) scale(1 0.93)" font-size="12.4" text-anchor="middle" font-family='"DejaVu Sans", "Liberation Sans", sans-serif' font-weight="normal" >80-100</text>
<text transform="translate(713.65 289.60) scale(1 0.93)" font-size="12.4" text-anchor="middle" font-family='"DejaVu Sans", "Liberation Sans", sans-serif' font-weight="normal" >100-120</text>
<text transform="translate(743.37 501.00) scale(1 0.93)" font-size="12.4" text-anchor="middle" font-family='"DejaVu Sans", "Liberation Sans", sans-serif' font-weight="normal" >120-140</text>
<text transform="translate(654.05 516.60) scale(1 0.93)" font-size="13.75" text-anchor="middle" font-family='"DejaVu Sans", "Liberation Sans", sans-serif' font-weight="normal" >Lag distance (m)</text>
<text transform="translate(36.70 389.80) rotate(-90) scale(1 0.9)" font-size="13.75" text-anchor="middle" font-family='"DejaVu Sans", "Liberation Sans", sans-serif' font-weight="normal" >Number of paired points</text>
<path d="M70.9 653.3 L71.8 653.2 L72.8 654.3 L73.7 655.8 L74.6 656.1 L74.9 655.5 L75.2 653.4 L75.4 652.7 L75.7 651.5 L76.0 650.8 L76.3 649.4 L77.3 649.2 L78.4 648.0 L79.5 647.8 L80.5 649.1 L82.2 649.4 L82.8 649.5 L83.4 651.9 L84.0 652.2 L84.5 653.3 L85.0 655.1 L85.4 655.0 L85.9 657.1 L87.3 657.8 L87.8 656.9 L88.3 656.1 L88.8 657.7 L89.3 658.5 L89.9 659.0 L90.5 661.2 L91.1 661.4 L91.6 663.1 L92.1 663.5 L92.7 663.6 L93.3 664.5 L93.9 666.3 L94.3 665.3 L94.6 665.0 L95.0 662.9 L95.3 662.1 L95.8 662.5 L96.3 663.8 L96.7 664.9 L97.4 663.3 L98.1 663.5 L98.7 664.0 L99.2 665.5 L99.7 666.6 L100.3 667.7 L100.8 668.3 L101.3 669.3 L101.8 670.4 L102.4 671.9 L102.9 672.8 L103.4 673.5 L104.0 674.0 L104.5 675.9 L105.6 676.6 L106.6 676.2 L108.0 676.9 L108.5 675.9 L108.9 675.0 L109.4 673.1 L109.9 672.6 L110.4 672.3 L111.0 670.9 L111.5 669.1 L111.9 669.8 L112.2 671.9 L112.7 670.5 L113.2 670.0 L113.7 668.4 L115.1 669.1 L115.5 668.6 L116.0 668.0 L116.5 666.3 L116.9 665.0 L117.3 664.6 L117.8 663.2 L118.2 661.4 L118.6 660.6 L119.3 660.1 L120.0 659.2 L120.4 661.3 L120.7 662.1 L121.4 661.5 L122.1 659.7 L122.8 658.5 L123.3 659.9 L123.8 660.0 L124.2 662.1 L125.4 663.5 L125.9 661.6 L126.4 660.6 L126.7 660.1 L127.1 658.2 L127.4 656.7 L127.8 656.1 L128.1 657.4 L128.5 658.8 L128.8 659.8 L129.2 660.6 L129.7 659.0 L130.2 657.8 L130.5 658.9 L130.9 660.2 L131.3 661.4 L131.7 660.7 L132.0 659.0 L132.4 657.8 L132.6 658.9 L132.8 660.3 L133.0 660.8 L133.2 662.1 L133.4 664.2 L134.1 665.2 L134.8 665.6 L135.4 665.4 L135.9 663.5 L136.4 664.7 L136.9 665.6 L137.6 664.7 L138.3 664.2 L138.8 662.4 L139.3 661.8 L139.8 660.6 L140.8 661.7 L141.9 660.9 L142.6 660.6 L143.3 659.2 L143.5 658.3 L143.7 657.8 L144.0 656.1 L144.7 656.5 L145.4 657.8 L146.8 657.1 L147.5 658.2 L148.2 659.2 L148.9 660.8 L149.6 660.6 L151.0 661.8 L152.4 660.9 L153.2 662.0 L153.9 662.8 L154.9 661.6 L156.0 660.6 L156.3 661.4 L156.7 662.8 L157.0 664.4 L157.4 664.9 L158.1 664.9 L158.8 666.3 L159.9 666.3 L160.9 665.6 L162.0 664.2 L162.9 665.5 L163.7 666.3 L164.8 667.0 L165.8 667.0 L167.3 667.7 L168.0 668.8 L168.7 669.7 L169.4 670.5 L169.8 671.5 L170.3 672.4 L170.8 673.3 L171.8 674.4 L172.9 675.5 L173.6 676.4 L174.2 677.6 L174.9 678.7 L175.6 679.7 L176.3 680.8 L177.0 681.8 L177.7 682.9 L178.4 683.8 L179.1 684.8 L179.8 685.7 L180.5 686.7 L181.0 687.7 L181.6 688.7 L182.1 689.7 L182.6 690.6 L182.9 691.8 L183.1 693.0 L183.3 694.2 L184.0 695.2 L184.7 696.3 L185.5 697.3 L186.2 698.4 L186.9 699.6 L187.6 700.8 L188.3 701.9 L189.0 703.0 L189.7 704.0 L190.4 704.9 L191.1 705.8 L191.8 706.7 L192.5 707.6 L193.2 708.5 L193.9 709.3 L194.6 710.2 L195.3 711.1 L195.8 712.0 L196.3 713.0 L196.7 713.9 L197.3 715.0 L197.9 716.2 L198.4 717.3 L199.0 718.4 L199.6 719.6 L200.5 720.6 L201.4 721.7 L201.9 722.9 L202.4 724.2 L203.4 724.7 L204.5 725.2 L205.9 725.4 L207.3 725.6 L208.7 726.1 L210.1 726.6 L211.5 727.0 L213.0 727.3 L214.4 727.7 L215.8 728.0 L217.0 728.0 L218.3 728.0 L219.5 728.0 L220.7 728.0 L222.0 728.0 L223.2 728.0 L224.4 728.0 L225.7 728.0 L226.9 728.0 L228.2 728.0 L229.4 728.0 L230.6 728.0 L231.9 728.0 L233.1 728.0 L234.4 728.0 L235.6 728.0 L236.8 728.0 L238.1 728.0 L239.3 728.0 L240.5 728.0 L241.8 728.0 L243.0 728.0 L244.3 728.0 L245.5 728.0 L246.7 728.0 L248.0 728.0 L249.2 728.0 L250.5 728.0 L251.7 728.0 L252.9 728.0 L254.2 728.0 L255.4 728.0 L256.6 728.0 L257.9 728.0 L259.1 728.0 L260.4 728.0 L261.6 728.0 L262.8 728.0 L264.1 728.0 L265.3 728.0 L266.6 728.0" fill="none" stroke="#000" stroke-width="1.2" stroke-linejoin="round" />
<rect x="71.00" y="536.50" width="201.50" height="194.70" fill="none" stroke="#3a3a3a" stroke-width="1.3"/>
<line x1="98.99" y1="731.20" x2="98.99" y2="727.20" stroke="#222" stroke-width="0.9" />
<line x1="98.99" y1="536.50" x2="98.99" y2="540.50" stroke="#222" stroke-width="0.9" />
<line x1="126.97" y1="731.20" x2="126.97" y2="727.20" stroke="#222" stroke-width="0.9" />
<line x1="126.97" y1="536.50" x2="126.97" y2="540.50" stroke="#222" stroke-width="0.9" />
<line x1="154.96" y1="731.20" x2="154.96" y2="727.20" stroke="#222" stroke-width="0.9" />
<line x1="154.96" y1="536.50" x2="154.96" y2="540.50" stroke="#222" stroke-width="0.9" />
<line x1="182.94" y1="731.20" x2="182.94" y2="727.20" stroke="#222" stroke-width="0.9" />
<line x1="182.94" y1="536.50" x2="182.94" y2="540.50" stroke="#222" stroke-width="0.9" />
<line x1="210.93" y1="731.20" x2="210.93" y2="727.20" stroke="#222" stroke-width="0.9" />
<line x1="210.93" y1="536.50" x2="210.93" y2="540.50" stroke="#222" stroke-width="0.9" opacity="0.35"/>
<line x1="238.92" y1="731.20" x2="238.92" y2="727.20" stroke="#222" stroke-width="0.9" opacity="0.4"/>
<line x1="238.92" y1="536.50" x2="238.92" y2="540.50" stroke="#222" stroke-width="0.9" opacity="0.35"/>
<line x1="266.90" y1="731.20" x2="266.90" y2="727.20" stroke="#222" stroke-width="0.9" opacity="0.4"/>
<line x1="266.90" y1="536.50" x2="266.90" y2="540.50" stroke="#222" stroke-width="0.9" />
<line x1="71.00" y1="692.26" x2="75.00" y2="692.26" stroke="#222" stroke-width="0.9" />
<line x1="272.50" y1="692.26" x2="268.50" y2="692.26" stroke="#222" stroke-width="0.9" />
<line x1="71.00" y1="653.32" x2="75.00" y2="653.32" stroke="#222" stroke-width="0.9" />
<line x1="272.50" y1="653.32" x2="268.50" y2="653.32" stroke="#222" stroke-width="0.9" />
<line x1="272.50" y1="614.38" x2="268.50" y2="614.38" stroke="#222" stroke-width="0.9" />
<line x1="71.00" y1="575.44" x2="75.00" y2="575.44" stroke="#222" stroke-width="0.9" />
<line x1="272.50" y1="575.44" x2="268.50" y2="575.44" stroke="#222" stroke-width="0.9" />
<text transform="translate(71.00 744.60) scale(1 0.93)" font-size="12.4" text-anchor="middle" font-family='"DejaVu Sans", "Liberation Sans", sans-serif' font-weight="normal" >0</text>
<text transform="translate(98.99 744.60) scale(1 0.93)" font-size="12.4" text-anchor="middle" font-family='"DejaVu Sans", "Liberation Sans", sans-serif' font-weight="normal" >50</text>
<text transform="translate(126.97 744.60) scale(1 0.93)" font-size="12.4" text-anchor="middle" font-family='"DejaVu Sans", "Liberation Sans", sans-serif' font-weight="normal" >100</text>
<text transform="translate(154.96 744.60) scale(1 0.93)" font-size="12.4" text-anchor="middle" font-family='"DejaVu Sans", "Liberation Sans", sans-serif' font-weight="normal" >150</text>
<text transform="translate(182.94 744.60) scale(1 0.93)" font-size="12.4" text-anchor="middle" font-family='"DejaVu Sans", "Liberation Sans", sans-serif' font-weight="normal" >200</text>
<text transform="translate(210.93 744.60) scale(1 0.93)" font-size="12.4" text-anchor="middle" font-family='"DejaVu Sans", "Liberation Sans", sans-serif' font-weight="normal" >250</text>
<text transform="translate(238.92 744.60) scale(1 0.93)" font-size="12.4" text-anchor="middle" font-family='"DejaVu Sans", "Liberation Sans", sans-serif' font-weight="normal" >300</text>
<text transform="translate(266.90 744.60) scale(1 0.93)" font-size="12.4" text-anchor="middle" font-family='"DejaVu Sans", "Liberation Sans", sans-serif' font-weight="normal" >350</text>
<text transform="translate(67.50 735.90) scale(1 0.93)" font-size="12.4" text-anchor="end" font-family='"DejaVu Sans", "Liberation Sans", sans-serif' font-weight="normal" >0.0</text>
<text transform="translate(67.50 696.96) scale(1 0.93)" font-size="12.4" text-anchor="end" font-family='"DejaVu Sans", "Liberation Sans", sans-serif' font-weight="normal" >0.2</text>
<text transform="translate(67.50 658.02) scale(1 0.93)" font-size="12.4" text-anchor="end" font-family='"DejaVu Sans", "Liberation Sans", sans-serif' font-weight="normal" >0.4</text>
<text transform="translate(67.50 619.08) scale(1 0.93)" font-size="12.4" text-anchor="end" font-family='"DejaVu Sans", "Liberation Sans", sans-serif' font-weight="normal" >0.6</text>
<text transform="translate(67.50 580.14) scale(1 0.93)" font-size="12.4" text-anchor="end" font-family='"DejaVu Sans", "Liberation Sans", sans-serif' font-weight="normal" >0.8</text>
<text transform="translate(67.50 541.20) scale(1 0.93)" font-size="12.4" text-anchor="end" font-family='"DejaVu Sans", "Liberation Sans", sans-serif' font-weight="normal" >1.0</text>
<text transform="translate(171.25 759.90) scale(1 0.93)" font-size="13.75" text-anchor="middle" font-family='"DejaVu Sans", "Liberation Sans", sans-serif' font-weight="normal" >Iterations</text>
<path d="M312.8 631.9 L312.9 631.5 L313.0 630.2 L313.2 627.3 L313.3 626.1 L313.5 625.6 L313.7 627.5 L313.8 628.6 L314.0 629.8 L314.2 630.4 L314.4 632.2 L314.6 633.3 L314.7 632.3 L314.9 631.1 L315.0 629.1 L315.2 628.4 L315.3 627.1 L315.4 626.5 L315.6 624.9 L317.0 624.2 L318.0 625.6 L318.2 625.2 L318.4 623.9 L318.6 622.0 L318.8 620.6 L319.2 622.0 L319.5 623.1 L319.8 624.9 L320.8 624.6 L320.9 625.0 L321.0 626.3 L321.2 628.4 L321.3 629.4 L321.4 630.8 L321.5 633.0 L321.7 633.6 L321.8 635.0 L321.9 636.2 L322.1 634.5 L322.3 632.9 L322.5 632.2 L322.7 630.7 L322.9 630.1 L323.1 629.8 L323.3 627.7 L323.5 626.8 L323.7 624.7 L323.9 624.8 L324.1 623.4 L324.3 622.1 L324.5 621.2 L324.7 619.2 L324.9 618.5 L325.1 617.2 L325.2 615.2 L325.4 615.1 L325.6 613.8 L325.7 611.1 L325.9 610.9 L326.1 609.6 L326.2 607.9 L326.4 606.7 L326.6 605.4 L326.7 606.6 L326.9 608.7 L327.1 609.2 L327.2 611.0 L327.4 611.4 L327.6 612.9 L328.3 614.3 L329.0 614.3 L329.5 614.1 L330.1 612.5 L330.4 613.5 L330.8 614.8 L331.1 615.7 L332.1 614.3 L332.2 616.3 L332.3 617.2 L332.5 618.0 L332.6 618.8 L332.7 620.3 L332.8 622.2 L333.0 622.5 L333.1 625.1 L333.2 625.6 L333.6 623.9 L333.9 623.9 L334.3 621.5 L334.6 620.6 L334.7 622.7 L334.8 623.5 L334.9 624.3 L335.0 625.6 L335.1 627.0 L335.2 628.1 L335.3 628.9 L335.4 629.9 L335.5 631.7 L335.6 633.7 L335.7 634.3 L335.7 634.6 L335.8 637.1 L335.9 638.2 L336.0 639.0 L336.1 638.4 L336.3 635.8 L336.4 635.5 L336.5 633.0 L336.6 632.8 L336.7 630.8 L336.9 629.4 L337.0 629.3 L337.1 626.6 L337.2 626.1 L337.3 625.4 L337.4 623.5 L337.5 621.8 L337.7 620.5 L337.8 620.5 L337.9 618.5 L338.0 617.8 L338.1 615.3 L338.2 614.7 L338.3 613.2 L338.4 612.8 L338.5 610.6 L338.6 610.9 L338.7 608.0 L338.9 607.7 L340.0 608.7 L340.2 610.4 L340.4 610.4 L340.7 612.1 L340.9 614.4 L341.2 614.5 L341.4 616.4 L341.6 617.3 L341.9 619.6 L342.1 620.6 L342.3 619.2 L342.6 617.4 L342.8 617.8 L343.1 615.7 L344.1 614.3 L344.1 614.9 L344.2 616.0 L344.3 617.8 L344.4 619.5 L344.5 621.0 L344.6 621.2 L344.6 622.8 L344.7 623.5 L344.8 625.5 L344.9 627.4 L345.0 628.6 L345.0 630.1 L345.1 631.1 L345.2 631.9 L345.9 631.9 L346.6 630.5 L347.0 632.3 L347.3 633.3 L347.5 632.2 L347.8 630.6 L348.0 630.2 L348.2 628.5 L348.4 627.7 L348.6 628.1 L348.8 629.9 L349.0 631.8 L349.2 631.5 L349.4 633.3 L350.8 634.0 L351.5 635.3 L352.2 636.2 L352.4 637.1 L352.6 638.4 L352.8 638.9 L353.0 641.5 L353.2 641.8 L353.5 640.1 L353.8 639.5 L354.1 638.0 L354.4 636.9 L355.5 636.2 L355.8 636.7 L356.2 639.1 L356.5 640.4 L356.8 640.9 L357.0 641.9 L357.3 642.9 L357.6 644.3 L357.9 646.0 L358.1 646.5 L358.3 648.7 L358.5 649.7 L358.7 651.7 L358.9 652.9 L359.1 654.2 L359.3 654.5 L360.0 654.7 L360.7 655.9 L361.7 656.5 L362.7 657.3 L363.3 657.7 L364.0 659.2 L364.6 659.9 L365.6 660.4 L366.5 660.5 L366.7 662.1 L366.9 663.1 L367.0 663.5 L367.2 665.0 L367.6 666.2 L368.0 667.6 L368.5 668.8 L369.5 668.8 L370.5 669.6 L371.5 670.7 L372.6 671.0 L373.6 672.1 L374.4 673.3 L375.3 674.0 L376.2 675.3 L377.2 675.8 L378.3 676.8 L379.4 677.8 L379.8 678.8 L380.3 679.9 L380.8 681.2 L381.3 682.3 L381.9 683.3 L382.6 684.3 L383.2 685.4 L383.8 686.3 L384.5 687.4 L385.3 688.4 L386.2 689.2 L387.1 690.0 L387.9 690.6 L388.8 691.3 L389.6 691.9 L390.9 692.4 L392.2 692.9 L393.5 693.4 L394.7 693.8 L395.9 694.0 L397.0 694.2 L398.1 694.3 L399.2 694.5 L400.2 695.1 L401.2 695.8 L402.1 696.4 L403.1 697.1 L404.2 697.4 L405.4 697.7 L406.5 698.1 L407.7 698.4 L408.8 698.7 L410.1 699.0 L411.4 699.3 L412.7 699.6 L414.0 700.2 L415.3 700.7 L416.5 701.2 L417.8 701.8 L419.1 702.2 L420.4 702.6 L421.7 703.0 L422.9 703.5 L424.2 703.6 L425.5 703.8 L426.8 703.9 L428.1 704.1 L429.4 704.4 L430.6 704.6 L431.9 704.9 L433.2 705.1 L434.5 705.5 L435.8 705.9 L437.1 706.3 L438.3 706.7 L439.6 706.8 L440.9 707.0 L442.2 707.2 L443.5 707.4 L444.7 707.6 L446.0 707.7 L447.3 707.9 L448.6 708.0 L449.9 708.2 L451.2 708.3 L452.2 708.5 L453.3 708.8 L454.4 709.0 L455.6 709.1 L456.9 709.3 L458.2 709.4 L459.5 709.6 L460.8 709.7 L462.1 709.9 L463.3 709.9 L464.6 710.0 L465.9 710.0 L467.2 710.1 L468.5 710.1 L469.7 710.2 L471.0 710.2 L472.3 710.3 L473.6 710.3 L474.9 710.4 L476.2 710.4 L477.4 710.5 L478.7 710.5 L480.0 710.6 L481.3 710.6 L482.6 710.8 L483.8 710.9 L485.1 711.0 L486.4 711.2 L487.7 711.3 L489.0 711.4 L490.3 711.5 L491.5 711.6 L492.8 711.6 L494.1 711.6 L495.4 711.7 L496.7 711.7 L497.9 711.8 L499.2 711.8 L500.5 711.8 L501.9 711.8 L503.2 711.8 L504.5 711.9 L505.8 711.9 L507.1 711.9 L508.4 711.9 L509.7 711.9" fill="none" stroke="#000" stroke-width="1.2" stroke-linejoin="round" />
<rect x="312.40" y="536.50" width="200.90" height="194.70" fill="none" stroke="#3a3a3a" stroke-width="1.3"/>
<line x1="340.30" y1="731.20" x2="340.30" y2="727.20" stroke="#222" stroke-width="0.9" />
<line x1="340.30" y1="536.50" x2="340.30" y2="540.50" stroke="#222" stroke-width="0.9" />
<line x1="368.21" y1="731.20" x2="368.21" y2="727.20" stroke="#222" stroke-width="0.9" />
<line x1="368.21" y1="536.50" x2="368.21" y2="540.50" stroke="#222" stroke-width="0.9" />
<line x1="396.11" y1="731.20" x2="396.11" y2="727.20" stroke="#222" stroke-width="0.9" />
<line x1="396.11" y1="536.50" x2="396.11" y2="540.50" stroke="#222" stroke-width="0.9" />
<line x1="424.01" y1="731.20" x2="424.01" y2="727.20" stroke="#222" stroke-width="0.9" />
<line x1="424.01" y1="536.50" x2="424.01" y2="540.50" stroke="#222" stroke-width="0.9" />
<line x1="451.91" y1="731.20" x2="451.91" y2="727.20" stroke="#222" stroke-width="0.9" />
<line x1="451.91" y1="536.50" x2="451.91" y2="540.50" stroke="#222" stroke-width="0.9" />
<line x1="479.82" y1="731.20" x2="479.82" y2="727.20" stroke="#222" stroke-width="0.9" />
<line x1="479.82" y1="536.50" x2="479.82" y2="540.50" stroke="#222" stroke-width="0.9" />
<line x1="507.72" y1="731.20" x2="507.72" y2="727.20" stroke="#222" stroke-width="0.9" />
<line x1="507.72" y1="536.50" x2="507.72" y2="540.50" stroke="#222" stroke-width="0.9" />
<line x1="312.40" y1="692.26" x2="316.40" y2="692.26" stroke="#222" stroke-width="0.9" />
<line x1="513.30" y1="692.26" x2="509.30" y2="692.26" stroke="#222" stroke-width="0.9" />
<line x1="312.40" y1="653.32" x2="316.40" y2="653.32" stroke="#222" stroke-width="0.9" opacity="0.3"/>
<line x1="513.30" y1="653.32" x2="509.30" y2="653.32" stroke="#222" stroke-width="0.9" />
<line x1="513.30" y1="614.38" x2="509.30" y2="614.38" stroke="#222" stroke-width="0.9" />
<line x1="312.40" y1="575.44" x2="316.40" y2="575.44" stroke="#222" stroke-width="0.9" />
<line x1="513.30" y1="575.44" x2="509.30" y2="575.44" stroke="#222" stroke-width="0.9" />
<text transform="translate(312.40 744.60) scale(1 0.93)" font-size="12.4" text-anchor="middle" font-family='"DejaVu Sans", "Liberation Sans", sans-serif' font-weight="normal" >0</text>
<text transform="translate(340.30 744.60) scale(1 0.93)" font-size="12.4" text-anchor="middle" font-family='"DejaVu Sans", "Liberation Sans", sans-serif' font-weight="normal" >50</text>
<text transform="translate(368.21 744.60) scale(1 0.93)" font-size="12.4" text-anchor="middle" font-family='"DejaVu Sans", "Liberation Sans", sans-serif' font-weight="normal" >100</text>
<text transform="translate(396.11 744.60) scale(1 0.93)" font-size="12.4" text-anchor="middle" font-family='"DejaVu Sans", "Liberation Sans", sans-serif' font-weight="normal" >150</text>
<text transform="translate(424.01 744.60) scale(1 0.93)" font-size="12.4" text-anchor="middle" font-family='"DejaVu Sans", "Liberation Sans", sans-serif' font-weight="normal" >200</text>
<text transform="translate(451.91 744.60) scale(1 0.93)" font-size="12.4" text-anchor="middle" font-family='"DejaVu Sans", "Liberation Sans", sans-serif' font-weight="normal" >250</text>
<text transform="translate(479.82 744.60) scale(1 0.93)" font-size="12.4" text-anchor="middle" font-family='"DejaVu Sans", "Liberation Sans", sans-serif' font-weight="normal" >300</text>
<text transform="translate(507.72 744.60) scale(1 0.93)" font-size="12.4" text-anchor="middle" font-family='"DejaVu Sans", "Liberation Sans", sans-serif' font-weight="normal" >350</text>
<text transform="translate(308.90 735.90) scale(1 0.93)" font-size="12.4" text-anchor="end" font-family='"DejaVu Sans", "Liberation Sans", sans-serif' font-weight="normal" >0.0</text>
<text transform="translate(308.90 696.96) scale(1 0.93)" font-size="12.4" text-anchor="end" font-family='"DejaVu Sans", "Liberation Sans", sans-serif' font-weight="normal" >0.2</text>
<text transform="translate(308.90 658.02) scale(1 0.93)" font-size="12.4" text-anchor="end" font-family='"DejaVu Sans", "Liberation Sans", sans-serif' font-weight="normal" >0.4</text>
<text transform="translate(308.90 619.08) scale(1 0.93)" font-size="12.4" text-anchor="end" font-family='"DejaVu Sans", "Liberation Sans", sans-serif' font-weight="normal" >0.6</text>
<text transform="translate(308.90 580.14) scale(1 0.93)" font-size="12.4" text-anchor="end" font-family='"DejaVu Sans", "Liberation Sans", sans-serif' font-weight="normal" >0.8</text>
<text transform="translate(308.90 541.20) scale(1 0.93)" font-size="12.4" text-anchor="end" font-family='"DejaVu Sans", "Liberation Sans", sans-serif' font-weight="normal" >1.0</text>
<text transform="translate(412.35 759.90) scale(1 0.93)" font-size="13.75" text-anchor="middle" font-family='"DejaVu Sans", "Liberation Sans", sans-serif' font-weight="normal" >Iterations</text>
<path d="M553.5 591.5 L554.2 591.8 L555.0 593.1 L555.6 593.9 L556.2 594.4 L556.7 595.6 L557.3 596.2 L557.5 597.3 L557.8 597.2 L558.0 598.0 L558.2 600.5 L558.5 600.3 L558.7 601.2 L558.9 603.5 L559.2 603.5 L559.4 605.1 L559.6 605.4 L560.1 604.3 L560.6 603.6 L561.2 602.3 L561.9 601.3 L562.7 601.5 L562.9 602.7 L563.0 604.1 L563.2 604.4 L563.4 605.7 L563.5 606.5 L563.7 606.4 L563.9 608.6 L564.1 609.2 L564.2 610.0 L564.8 610.4 L565.4 610.7 L566.0 613.0 L566.5 613.1 L567.7 612.6 L568.8 612.3 L569.6 613.2 L570.4 614.0 L571.2 613.8 L571.4 613.2 L571.6 612.6 L571.8 610.7 L572.0 610.4 L572.3 608.8 L572.5 608.7 L572.7 606.9 L572.8 606.6 L572.8 604.2 L572.9 603.3 L573.0 602.4 L573.1 602.8 L573.2 600.8 L573.2 600.2 L573.3 598.6 L573.4 597.9 L573.5 596.9 L573.7 597.7 L573.9 598.6 L574.1 600.0 L574.3 601.0 L574.6 602.6 L574.8 603.2 L575.0 603.8 L575.5 605.4 L576.0 606.0 L576.5 606.2 L576.9 606.1 L577.3 604.5 L577.7 602.7 L578.1 602.3 L578.5 602.0 L578.8 601.2 L579.2 600.2 L579.6 598.5 L580.4 598.2 L581.2 597.7 L581.3 599.1 L581.4 599.1 L581.6 601.2 L581.7 601.7 L581.9 602.2 L582.0 602.8 L582.1 605.2 L582.3 606.4 L582.4 605.8 L582.6 608.0 L582.7 608.5 L582.9 609.3 L583.2 609.9 L583.5 611.2 L583.7 613.0 L584.0 614.3 L584.2 614.6 L584.4 612.8 L584.6 612.9 L584.8 610.9 L585.0 611.2 L585.2 609.5 L585.4 609.5 L585.6 608.7 L585.8 606.9 L586.0 606.0 L586.3 606.0 L586.5 603.9 L586.8 602.6 L587.1 602.6 L587.3 601.5 L588.1 600.3 L588.8 600.8 L589.0 601.2 L589.2 602.5 L589.4 603.9 L589.6 604.0 L589.8 604.8 L590.0 607.2 L590.2 607.2 L590.4 608.5 L590.6 610.2 L590.8 611.1 L591.0 611.1 L591.2 612.2 L591.3 613.3 L591.5 614.5 L591.7 615.4 L591.9 616.2 L592.1 617.3 L592.2 618.4 L592.3 620.0 L592.4 620.3 L592.6 621.2 L592.7 622.7 L592.8 622.9 L592.9 624.0 L593.1 626.2 L593.2 626.4 L593.3 627.5 L593.5 628.5 L594.0 628.6 L594.5 630.4 L595.0 631.5 L595.3 632.7 L595.5 632.7 L595.8 634.8 L596.0 635.9 L596.3 635.9 L596.5 637.7 L596.9 638.8 L597.2 639.4 L597.5 640.7 L597.9 640.9 L598.2 642.5 L598.5 643.4 L598.8 643.8 L599.4 643.8 L599.9 644.6 L600.4 646.5 L600.9 647.8 L601.4 647.2 L601.9 648.5 L602.1 647.4 L602.3 646.7 L602.6 645.2 L602.8 644.3 L603.0 643.2 L603.2 642.4 L603.4 641.8 L603.6 640.3 L603.8 639.4 L604.0 639.2 L604.2 637.7 L604.4 635.8 L604.6 635.8 L604.7 635.0 L604.9 633.2 L605.1 632.1 L605.3 632.1 L605.4 630.0 L605.6 628.9 L605.8 628.5 L606.5 627.6 L607.3 626.9 L608.1 627.8 L608.8 627.2 L609.6 628.5 L610.1 629.1 L610.5 630.0 L611.0 631.8 L611.5 632.0 L611.9 633.1 L612.7 633.2 L613.5 631.5 L614.2 631.5 L614.6 632.1 L614.9 633.6 L615.2 634.9 L615.5 635.0 L615.9 635.4 L616.2 636.1 L616.5 637.7 L616.9 636.9 L617.2 635.4 L617.5 635.6 L617.9 634.8 L618.2 632.7 L618.5 632.0 L618.8 631.5 L619.1 631.1 L619.3 629.8 L619.5 629.1 L619.7 627.3 L619.9 625.9 L620.2 625.2 L620.4 624.6 L621.5 624.8 L622.7 623.8 L622.9 624.5 L623.2 625.6 L623.5 626.8 L623.7 627.8 L624.0 628.8 L624.2 630.0 L624.6 631.6 L624.9 631.1 L625.2 631.7 L625.5 634.3 L625.9 635.1 L626.2 636.2 L626.5 636.2 L627.0 636.9 L627.4 638.7 L627.9 639.6 L628.3 639.2 L628.7 641.0 L629.2 642.0 L629.6 642.3 L630.4 643.2 L631.2 643.6 L631.9 643.8 L632.7 644.5 L633.5 645.4 L634.4 645.3 L635.4 645.4 L636.3 646.7 L637.3 646.9 L638.1 646.0 L638.8 646.3 L639.6 644.4 L640.4 644.6 L641.0 644.5 L641.6 643.4 L642.2 643.0 L642.8 642.1 L643.5 640.8 L644.0 640.6 L644.5 639.3 L645.0 638.5 L645.8 638.2 L646.5 639.6 L647.3 639.7 L647.9 640.0 L648.5 640.8 L649.2 641.9 L649.8 642.4 L650.4 643.1 L650.8 643.9 L651.2 645.3 L651.5 645.9 L651.9 646.5 L652.3 647.4 L652.7 648.5 L653.5 649.3 L654.2 649.6 L655.0 650.4 L655.8 650.8 L656.7 651.3 L657.7 651.8 L658.7 652.5 L659.6 653.1 L660.2 654.1 L660.8 654.9 L661.3 656.0 L661.9 656.9 L662.5 657.9 L663.1 658.9 L663.7 659.8 L664.2 660.8 L664.8 661.5 L665.3 662.3 L665.9 663.1 L666.4 663.8 L667.0 664.6 L667.5 665.4 L668.1 666.2 L668.8 666.8 L669.6 667.4 L670.4 668.1 L671.2 668.7 L671.9 669.4 L672.7 670.0 L673.5 670.5 L674.2 671.0 L675.0 671.5 L675.8 672.1 L676.5 672.6 L677.3 673.1 L678.1 673.6 L678.8 674.1 L679.6 674.6 L680.4 675.1 L681.2 675.6 L681.9 676.2 L682.8 676.6 L683.8 677.0 L684.7 677.4 L685.6 677.8 L686.5 678.2 L687.6 678.1 L688.6 678.0 L689.6 677.9 L690.6 677.8 L691.7 677.8 L692.7 677.7 L693.7 677.8 L694.7 677.9 L695.8 678.1 L696.8 678.2 L697.8 678.3 L698.8 678.5 L699.9 678.3 L700.9 678.1 L701.9 677.8 L702.9 677.6 L704.0 677.4 L705.0 677.2 L706.0 677.3 L706.9 677.3 L707.9 677.4 L708.8 677.5 L709.8 677.5 L710.8 677.6 L711.7 677.6 L712.7 677.7 L713.7 677.7 L714.7 677.8 L715.8 677.8 L716.8 677.9 L717.8 677.9 L718.8 678.0 L719.9 678.1 L720.9 678.1 L721.9 678.2 L722.9 678.2 L723.9 678.2 L724.9 678.2 L725.8 678.2 L726.8 678.2 L727.8 678.2 L728.8 678.2 L729.7 678.2 L730.7 678.2 L731.7 678.2 L732.7 678.2 L733.7 678.2 L734.6 678.2 L735.6 678.2 L736.6 678.2 L737.6 678.2 L738.5 678.2" fill="none" stroke="#000" stroke-width="1.1" stroke-linejoin="round" stroke-dasharray="1.2 2.4"/>
<path d="M554.2 654.9 L555.3 654.3 L556.3 653.9 L557.3 654.2 L558.3 653.7 L559.4 653.3 L560.4 653.8 L561.3 653.8 L562.2 654.8 L563.2 654.8 L564.1 654.9 L565.0 654.6 L566.0 653.7 L567.1 653.6 L568.1 653.1 L568.8 653.5 L569.6 654.1 L570.4 655.4 L571.2 655.3 L571.9 656.0 L572.7 656.9 L573.0 658.5 L573.3 659.3 L573.6 660.2 L573.9 661.1 L574.2 661.5 L574.7 661.9 L575.3 663.0 L575.8 664.4 L576.3 665.5 L576.8 666.6 L577.3 666.9 L578.1 668.3 L578.8 667.8 L579.6 669.2 L580.6 669.4 L581.5 669.5 L582.5 669.2 L583.5 669.2 L583.9 667.8 L584.4 667.3 L584.8 665.8 L585.3 666.2 L585.8 664.6 L586.5 664.4 L587.3 663.2 L588.1 662.3 L589.1 661.6 L590.1 662.1 L591.2 661.1 L592.1 661.0 L593.1 661.4 L594.0 661.2 L595.0 660.5 L595.8 659.8 L596.5 658.9 L597.3 658.5 L598.1 657.7 L598.8 656.8 L599.6 656.2 L600.4 656.4 L601.2 657.4 L601.9 658.5 L602.7 659.7 L603.5 659.3 L604.2 660.8 L605.4 660.4 L606.5 661.5 L607.3 661.0 L608.1 659.6 L608.8 659.2 L610.0 659.1 L611.2 658.9 L611.6 659.7 L612.1 660.3 L612.5 662.2 L613.0 661.8 L613.5 663.1 L614.0 664.0 L614.5 664.7 L615.0 666.2 L615.8 667.1 L616.5 667.3 L617.3 668.5 L617.7 669.1 L618.2 670.5 L618.6 670.7 L619.1 671.9 L619.5 673.3 L619.9 672.8 L620.4 674.3 L621.2 672.9 L621.9 672.5 L622.7 672.7 L623.5 671.5 L623.9 670.8 L624.4 669.3 L624.8 668.5 L625.3 667.3 L625.8 666.9 L626.3 666.0 L626.8 664.4 L627.3 664.5 L627.8 664.0 L628.3 663.2 L628.8 661.5 L629.6 661.2 L630.4 660.9 L631.2 659.5 L632.2 658.7 L633.2 659.0 L634.2 659.2 L635.3 660.5 L636.3 660.7 L637.3 660.8 L638.1 661.2 L638.8 662.6 L639.6 662.7 L640.4 663.1 L641.4 663.9 L642.4 663.5 L643.5 664.2 L644.2 663.9 L645.0 664.6 L646.0 664.8 L647.1 664.5 L648.1 665.4 L649.1 665.5 L650.1 666.6 L651.2 666.2 L651.6 665.0 L652.1 663.6 L652.5 662.8 L653.0 662.0 L653.5 661.5 L654.2 662.7 L655.0 662.9 L655.8 663.8 L656.2 664.5 L656.5 665.2 L656.9 667.1 L657.3 667.4 L657.7 668.0 L658.1 669.2 L658.8 669.6 L659.6 670.4 L660.4 671.5 L661.2 670.7 L661.9 670.5 L662.7 669.6 L663.5 669.2 L664.1 668.2 L664.7 667.7 L665.3 666.8 L665.9 666.4 L666.5 665.4 L667.6 665.5 L668.6 665.9 L669.6 666.2 L670.6 666.6 L671.5 666.9 L672.5 667.3 L673.5 667.7 L674.4 668.1 L675.4 668.5 L676.3 668.8 L677.3 669.2 L678.2 669.2 L679.2 669.2 L680.1 669.2 L681.0 669.2 L681.9 669.2 L682.9 669.4 L684.0 669.5 L685.0 669.6 L686.0 669.7 L687.1 669.9 L688.1 670.0 L689.0 670.5 L689.8 671.1 L690.7 671.6 L691.6 672.2 L692.5 672.7 L693.4 673.3 L694.2 673.8 L695.2 673.8 L696.2 673.8 L697.1 673.8 L698.1 673.8 L699.0 674.2 L700.0 674.6 L701.0 675.0 L701.9 675.4 L702.8 675.6 L703.8 675.9 L704.7 676.1 L705.6 676.4 L706.5 676.6 L707.6 676.7 L708.6 676.7 L709.6 676.8 L710.6 676.8 L711.7 676.9 L712.7 676.9 L713.7 677.1 L714.7 677.2 L715.8 677.4 L716.8 677.5 L717.8 677.7 L718.8 677.8 L719.8 677.9 L720.8 677.9 L721.8 677.9 L722.8 677.9 L723.8 677.9 L724.8 677.9 L725.7 678.0 L726.7 678.0 L727.7 678.0 L728.7 678.0 L729.7 678.0 L730.7 678.0 L731.6 678.0 L732.6 678.1 L733.6 678.1 L734.6 678.1 L735.6 678.1 L736.6 678.1 L737.6 678.1 L738.5 678.2" fill="none" stroke="#000" stroke-width="1.2" stroke-linejoin="round" stroke-dasharray="3.4 2.6"/>
<path d="M553.5 613.1 L554.0 614.1 L554.6 615.1 L555.2 616.0 L555.8 616.2 L556.2 618.0 L556.7 618.5 L557.2 619.8 L557.6 618.9 L558.1 620.8 L558.4 621.7 L558.7 623.6 L559.0 624.0 L559.3 625.5 L559.6 625.7 L559.9 623.9 L560.2 623.7 L560.5 622.2 L560.8 621.8 L561.2 620.8 L561.9 620.8 L562.7 620.5 L562.8 620.4 L563.0 621.7 L563.2 622.8 L563.3 625.0 L563.5 625.6 L563.6 625.3 L563.8 626.9 L564.2 628.4 L564.6 628.0 L565.0 629.9 L565.4 629.9 L565.8 631.5 L566.1 629.6 L566.4 630.4 L566.7 628.2 L567.0 627.3 L567.3 626.9 L568.1 628.7 L568.8 628.5 L569.4 630.2 L570.0 630.0 L570.6 632.3 L571.2 632.3 L571.5 631.4 L571.9 630.7 L572.3 628.8 L572.7 628.5 L572.8 628.3 L572.8 626.8 L572.9 626.4 L573.0 625.2 L573.1 623.1 L573.2 622.2 L573.2 620.8 L573.3 619.8 L573.4 618.6 L573.5 618.5 L573.6 619.0 L573.8 620.5 L574.0 620.3 L574.1 622.6 L574.3 622.8 L574.5 623.7 L574.7 625.7 L574.8 625.9 L575.0 626.9 L576.2 626.2 L577.3 626.2 L577.6 625.2 L577.9 624.8 L578.2 622.6 L578.5 623.5 L578.8 620.7 L579.2 620.8 L579.8 620.8 L580.5 620.4 L581.2 619.2 L581.3 619.3 L581.5 621.9 L581.7 622.0 L581.8 623.5 L582.0 623.4 L582.2 624.5 L582.4 625.8 L582.5 628.3 L582.7 628.5 L582.9 628.8 L583.2 630.8 L583.4 632.1 L583.7 633.0 L583.9 632.8 L584.2 633.7 L584.4 635.0 L584.7 635.8 L584.8 635.4 L584.9 633.2 L585.0 633.5 L585.1 632.6 L585.2 631.8 L585.3 629.2 L585.4 630.1 L585.5 627.4 L585.6 627.0 L585.7 626.6 L585.8 625.4 L586.3 625.2 L586.8 623.0 L587.3 622.3 L588.5 623.2 L589.6 622.3 L589.8 623.4 L590.0 623.9 L590.2 624.8 L590.4 625.5 L590.6 626.3 L590.8 627.4 L591.0 629.4 L591.2 630.0 L591.3 632.0 L591.4 631.2 L591.5 632.0 L591.7 634.8 L591.8 634.9 L591.9 635.6 L592.1 636.2 L592.2 637.9 L592.3 639.3 L592.4 639.5 L592.6 640.4 L592.7 641.5 L593.5 641.4 L594.2 643.1 L595.0 644.3 L595.8 643.8 L596.0 643.9 L596.3 645.9 L596.5 647.6 L596.8 647.2 L597.1 649.4 L597.3 650.0 L598.1 651.4 L598.8 651.3 L599.6 651.5 L600.8 652.5 L601.9 652.3 L602.4 652.5 L602.9 654.2 L603.5 655.4 L603.6 653.7 L603.7 654.2 L603.8 652.1 L603.9 651.4 L604.0 651.6 L604.1 650.3 L604.2 649.6 L604.3 647.6 L604.4 646.7 L604.5 646.2 L604.6 644.8 L604.7 643.8 L605.1 642.4 L605.4 641.6 L605.8 640.8 L606.9 640.2 L608.1 641.1 L609.2 641.1 L610.4 641.5 L610.8 643.4 L611.3 644.3 L611.8 644.6 L612.2 645.2 L612.7 646.2 L613.5 645.1 L614.2 643.8 L615.0 643.8 L615.4 644.3 L615.8 646.2 L616.2 647.3 L616.5 647.2 L616.9 648.9 L617.3 649.2 L618.1 650.5 L618.8 650.8 L619.0 650.2 L619.2 649.2 L619.4 648.5 L619.5 646.7 L619.7 646.5 L619.9 644.7 L620.0 644.2 L620.2 643.8 L620.4 642.3 L621.2 641.9 L621.9 640.4 L622.7 640.0 L623.3 641.9 L623.8 642.2 L624.4 643.0 L625.0 643.8 L625.5 643.8 L626.0 645.7 L626.5 646.0 L627.1 647.8 L627.6 648.3 L628.1 649.2 L629.1 650.4 L630.1 650.6 L631.2 650.8 L631.9 651.9 L632.7 651.5 L633.5 652.6 L634.2 652.8 L635.3 653.8 L636.3 654.5 L637.3 654.3 L638.3 653.5 L639.4 653.9 L640.4 652.8 L641.2 652.9 L641.9 652.1 L642.7 652.1 L643.5 650.8 L644.2 651.0 L645.0 649.8 L645.8 649.2 L646.5 650.0 L647.3 650.3 L648.1 651.5 L648.8 652.7 L649.6 653.6 L650.4 653.8 L651.2 654.6 L651.9 655.4 L652.7 656.0 L653.5 656.5 L654.2 656.9 L655.0 657.3 L655.8 658.3 L656.5 658.7 L657.3 659.2 L658.1 660.1 L658.8 660.7 L659.6 661.6 L660.4 662.3 L661.2 662.9 L661.9 663.5 L662.7 664.1 L663.5 664.6 L664.4 665.1 L665.3 665.5 L666.2 666.0 L667.2 666.5 L668.1 666.9 L669.0 667.4 L669.9 667.8 L670.8 668.3 L671.8 668.8 L672.7 669.2 L673.6 669.6 L674.5 669.9 L675.3 670.2 L676.2 670.5 L677.1 670.9 L678.0 671.2 L678.8 671.5 L679.9 671.9 L680.9 672.2 L681.9 672.5 L682.9 672.9 L684.0 673.2 L685.0 673.5 L686.0 673.7 L687.1 673.9 L688.1 674.1 L689.1 674.3 L690.1 674.4 L691.2 674.6 L692.2 674.7 L693.2 674.9 L694.2 675.0 L695.3 675.1 L696.3 675.3 L697.3 675.4 L698.3 675.6 L699.4 675.8 L700.4 676.0 L701.4 676.2 L702.4 676.4 L703.5 676.6 L704.5 676.7 L705.5 676.8 L706.5 676.9 L707.6 677.0 L708.6 677.1 L709.6 677.2 L710.6 677.3 L711.5 677.4 L712.5 677.5 L713.5 677.5 L714.4 677.6 L715.4 677.7 L716.3 677.8 L717.3 677.8 L718.3 677.9 L719.3 677.9 L720.2 677.9 L721.2 678.0 L722.2 678.0 L723.2 678.0 L724.2 678.0 L725.1 678.1 L726.1 678.1 L727.1 678.1 L728.1 678.2 L729.1 678.2 L730.2 678.2 L731.2 678.2 L732.3 678.2 L733.3 678.2 L734.4 678.2 L735.4 678.2 L736.4 678.2 L737.5 678.2 L738.5 678.2" fill="none" stroke="#000" stroke-width="1.2" stroke-linejoin="round" />
<rect x="553.60" y="536.50" width="200.90" height="194.70" fill="none" stroke="#3a3a3a" stroke-width="1.3"/>
<line x1="581.50" y1="731.20" x2="581.50" y2="727.20" stroke="#222" stroke-width="0.9" opacity="0.25"/>
<line x1="581.50" y1="536.50" x2="581.50" y2="540.50" stroke="#222" stroke-width="0.9" opacity="0.2"/>
<line x1="609.41" y1="731.20" x2="609.41" y2="727.20" stroke="#222" stroke-width="0.9" opacity="0.25"/>
<line x1="609.41" y1="536.50" x2="609.41" y2="540.50" stroke="#222" stroke-width="0.9" opacity="0.2"/>
<line x1="637.31" y1="731.20" x2="637.31" y2="727.20" stroke="#222" stroke-width="0.9" opacity="0.25"/>
<line x1="637.31" y1="536.50" x2="637.31" y2="540.50" stroke="#222" stroke-width="0.9" opacity="0.2"/>
<line x1="665.21" y1="731.20" x2="665.21" y2="727.20" stroke="#222" stroke-width="0.9" opacity="0.25"/>
<line x1="665.21" y1="536.50" x2="665.21" y2="540.50" stroke="#222" stroke-width="0.9" opacity="0.2"/>
<line x1="693.11" y1="731.20" x2="693.11" y2="727.20" stroke="#222" stroke-width="0.9" opacity="0.25"/>
<line x1="693.11" y1="536.50" x2="693.11" y2="540.50" stroke="#222" stroke-width="0.9" opacity="0.2"/>
<line x1="721.02" y1="731.20" x2="721.02" y2="727.20" stroke="#222" stroke-width="0.9" opacity="0.25"/>
<line x1="721.02" y1="536.50" x2="721.02" y2="540.50" stroke="#222" stroke-width="0.9" opacity="0.2"/>
<line x1="748.92" y1="731.20" x2="748.92" y2="727.20" stroke="#222" stroke-width="0.9" opacity="0.25"/>
<line x1="748.92" y1="536.50" x2="748.92" y2="540.50" stroke="#222" stroke-width="0.9" opacity="0.2"/>
<line x1="553.60" y1="692.26" x2="557.60" y2="692.26" stroke="#222" stroke-width="0.9" />
<line x1="754.50" y1="692.26" x2="750.50" y2="692.26" stroke="#222" stroke-width="0.9" />
<line x1="553.60" y1="653.32" x2="557.60" y2="653.32" stroke="#222" stroke-width="0.9" />
<line x1="754.50" y1="653.32" x2="750.50" y2="653.32" stroke="#222" stroke-width="0.9" />
<line x1="553.60" y1="614.38" x2="557.60" y2="614.38" stroke="#222" stroke-width="0.9" />
<line x1="553.60" y1="575.44" x2="557.60" y2="575.44" stroke="#222" stroke-width="0.9" />
<line x1="754.50" y1="575.44" x2="750.50" y2="575.44" stroke="#222" stroke-width="0.9" />
<text transform="translate(553.60 744.60) scale(1 0.93)" font-size="12.4" text-anchor="middle" font-family='"DejaVu Sans", "Liberation Sans", sans-serif' font-weight="normal" >0</text>
<text transform="translate(581.50 744.60) scale(1 0.93)" font-size="12.4" text-anchor="middle" font-family='"DejaVu Sans", "Liberation Sans", sans-serif' font-weight="normal" >50</text>
<text transform="translate(609.41 744.60) scale(1 0.93)" font-size="12.4" text-anchor="middle" font-family='"DejaVu Sans", "Liberation Sans", sans-serif' font-weight="normal" >100</text>
<text transform="translate(637.31 744.60) scale(1 0.93)" font-size="12.4" text-anchor="middle" font-family='"DejaVu Sans", "Liberation Sans", sans-serif' font-weight="normal" >150</text>
<text transform="translate(665.21 744.60) scale(1 0.93)" font-size="12.4" text-anchor="middle" font-family='"DejaVu Sans", "Liberation Sans", sans-serif' font-weight="normal" >200</text>
<text transform="translate(693.11 744.60) scale(1 0.93)" font-size="12.4" text-anchor="middle" font-family='"DejaVu Sans", "Liberation Sans", sans-serif' font-weight="normal" >250</text>
<text transform="translate(721.02 744.60) scale(1 0.93)" font-size="12.4" text-anchor="middle" font-family='"DejaVu Sans", "Liberation Sans", sans-serif' font-weight="normal" >300</text>
<text transform="translate(748.92 744.60) scale(1 0.93)" font-size="12.4" text-anchor="middle" font-family='"DejaVu Sans", "Liberation Sans", sans-serif' font-weight="normal" >350</text>
<text transform="translate(550.10 735.90) scale(1 0.93)" font-size="12.4" text-anchor="end" font-family='"DejaVu Sans", "Liberation Sans", sans-serif' font-weight="normal" >0.0</text>
<text transform="translate(550.10 696.96) scale(1 0.93)" font-size="12.4" text-anchor="end" font-family='"DejaVu Sans", "Liberation Sans", sans-serif' font-weight="normal" >0.2</text>
<text transform="translate(550.10 658.02) scale(1 0.93)" font-size="12.4" text-anchor="end" font-family='"DejaVu Sans", "Liberation Sans", sans-serif' font-weight="normal" >0.4</text>
<text transform="translate(550.10 619.08) scale(1 0.93)" font-size="12.4" text-anchor="end" font-family='"DejaVu Sans", "Liberation Sans", sans-serif' font-weight="normal" >0.6</text>
<text transform="translate(550.10 580.14) scale(1 0.93)" font-size="12.4" text-anchor="end" font-family='"DejaVu Sans", "Liberation Sans", sans-serif' font-weight="normal" >0.8</text>
<text transform="translate(550.10 541.20) scale(1 0.93)" font-size="12.4" text-anchor="end" font-family='"DejaVu Sans", "Liberation Sans", sans-serif' font-weight="normal" >1.0</text>
<text transform="translate(653.55 759.90) scale(1 0.93)" font-size="13.75" text-anchor="middle" font-family='"DejaVu Sans", "Liberation Sans", sans-serif' font-weight="normal" >Iterations</text>
<text transform="translate(39.70 633.80) rotate(-90) scale(1 0.9)" font-size="13.75" text-anchor="middle" font-family='"DejaVu Sans", "Liberation Sans", sans-serif' font-weight="normal" >Values of objective function</text>
<rect x="647.7" y="544.5" width="98.9" height="76.4" fill="#fff" stroke="#3a3a3a" stroke-width="1.2"/>
<line x1="658.20" y1="556.30" x2="680.30" y2="556.30" stroke="#111" stroke-width="1.0" />
<line x1="658.20" y1="581.20" x2="680.30" y2="581.20" stroke="#111" stroke-width="1.0" stroke-dasharray="6.5 6.2"/>
<line x1="658.20" y1="605.50" x2="677.00" y2="605.50" stroke="#111" stroke-width="1.0" stroke-dasharray="1.1 2.6"/>
<text class="m" x="696.4" y="560.9" font-size="15.6" font-family='"Liberation Serif", "DejaVu Serif", serif' font-weight="normal" textLength="10.9" lengthAdjust="spacingAndGlyphs">Φ</text>
<text class="m" x="707.3" y="565.7" font-size="10.6" font-family='"Liberation Serif", "DejaVu Serif", serif' font-weight="bold" textLength="33.2" lengthAdjust="spacingAndGlyphs">Hybrid</text>
<text class="m" x="696.4" y="587.2" font-size="15.6" font-family='"Liberation Serif", "DejaVu Serif", serif' font-weight="normal" textLength="10.9" lengthAdjust="spacingAndGlyphs">Φ</text>
<text class="m" x="707.8" y="580.1" font-size="8.8" font-family='"Liberation Serif", "DejaVu Serif", serif' font-weight="bold" textLength="23.6" lengthAdjust="spacingAndGlyphs">norm</text>
<text class="m" x="708.1" y="590.6" font-size="9.6" font-family='"Liberation Serif", "DejaVu Serif", serif' font-weight="bold" textLength="19.0" lengthAdjust="spacingAndGlyphs">WM</text>
<text class="m" x="696.4" y="610.4" font-size="15.6" font-family='"Liberation Serif", "DejaVu Serif", serif' font-weight="normal" textLength="10.9" lengthAdjust="spacingAndGlyphs">Φ</text>
<text class="m" x="707.8" y="603.7" font-size="8.8" font-family='"Liberation Serif", "DejaVu Serif", serif' font-weight="bold" textLength="23.6" lengthAdjust="spacingAndGlyphs">norm</text>
<text class="m" x="708.1" y="614.1" font-size="9.6" font-family='"Liberation Serif", "DejaVu Serif", serif' font-weight="bold" textLength="22.8" lengthAdjust="spacingAndGlyphs">MSD</text>
</svg>
</body></html>
